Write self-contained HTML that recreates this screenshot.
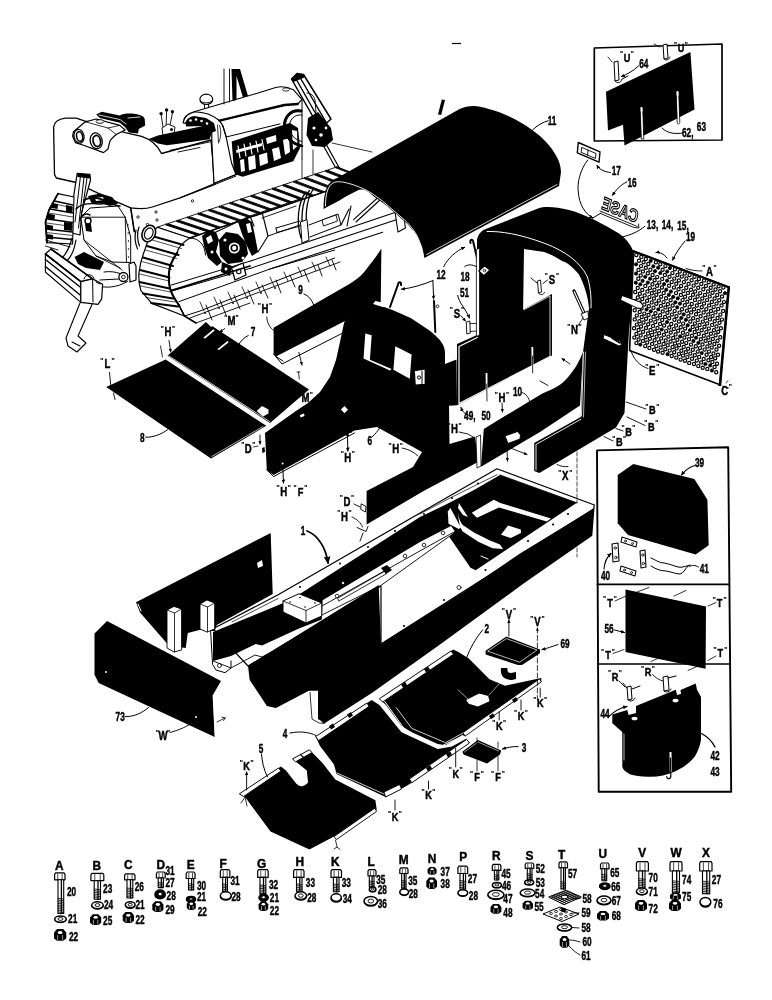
<!DOCTYPE html>
<html lang="en"><head><meta charset="utf-8"><title>Parts diagram</title>
<style>
html,body{margin:0;padding:0;background:#fff;}
svg{display:block;filter:blur(0.45px);}
text{font-family:"Liberation Sans",sans-serif;font-weight:bold;fill:#000;stroke:#000;stroke-width:0.45px;}
.k{fill:#000;stroke:none;}
.w{fill:#fff;stroke:none;}
.l{fill:none;stroke:#000;stroke-width:1;stroke-linecap:round;stroke-linejoin:round;}
.l2{fill:none;stroke:#000;stroke-width:1.6;stroke-linecap:round;stroke-linejoin:round;}
.l3{fill:none;stroke:#000;stroke-width:2.4;stroke-linecap:round;stroke-linejoin:round;}
.wl{fill:none;stroke:#fff;stroke-width:1;stroke-linecap:round;stroke-linejoin:round;}
.o{fill:#fff;stroke:#000;stroke-width:1;stroke-linejoin:round;}
</style></head><body>
<svg width="772" height="1000" viewBox="0 0 772 1000">
<rect x="0" y="0" width="772" height="1000" fill="#fff"/>
<path d="M452,43.5 L461,43.5" stroke="#000" stroke-width="1.2" fill="none"/>

<!-- tractor line drawing -->
<g id="tractor">
<!-- fuel tank -->
<path class="o" d="M53.6,127.2 C54,122 58,119 65.4,118.1 L76.3,118.1 L84.4,120.9 L125.2,132.6 L141.6,136.3 C150,139 157,144 161.5,153.5 L211,140 L215,184.4 L180,197.9 L152.4,207 C146,209 140,209 130.7,207.9 L116.2,201.6 L92.6,190.7 L76.3,182.5 L56.3,178 L54.5,174.4 Z" style="stroke-width:1.3"/>
<!-- seat -->
<path class="k" d="M96.2,114.5 L101.7,111.8 L119.8,115.4 C123,113.5 132,113 138,114.5 C142,115.5 145,117 144.8,120 L145.2,125.4 L138.8,129 L138,133.5 L128.9,132.6 L125.2,127.2 L119.8,122.7 L99.8,118.1 Z"/>
<path class="wl" d="M99,115 L120,119.5 L126,124 M128,118 L140,117" style="stroke-width:0.8"/>
<!-- light housing -->
<path class="o" d="M73.5,131.7 L85.3,121.8 L96.2,119 L119.8,125.4 L125.2,130 L116.2,134.5 C112,138 110,141 109.8,141.7 L108,149 L103.5,152.6 L83.5,145.3 L75.4,142.6 L72.6,136.3 Z" style="stroke-width:1.2"/>
<path class="l" d="M85.3,121.8 L108,128 L116.2,134.5 M108,128 L119.8,125.4" style="stroke-width:0.8"/>
<ellipse cx="100" cy="121.5" rx="4" ry="1.8" class="o" style="stroke-width:0.9"/>
<ellipse cx="79" cy="136.3" rx="5" ry="6.9" class="o" transform="rotate(-12 79 136.3)" style="stroke-width:1.3"/>
<ellipse cx="79.6" cy="136.5" rx="3" ry="4.8" class="o" transform="rotate(-12 79.6 136.5)" style="stroke-width:1.6"/>
<ellipse cx="96.2" cy="140.8" rx="6" ry="8" class="o" transform="rotate(-12 96.2 140.8)" style="stroke-width:1.3"/>
<ellipse cx="96.8" cy="141" rx="3.7" ry="5.6" class="o" transform="rotate(-12 96.8 141)" style="stroke-width:1.8"/>
<!-- levers -->
<path class="l" d="M161.1,114.5 L163.5,130 M166.6,111 L166,129 M172.4,113 L169.5,128" style="stroke-width:0.9"/>
<circle cx="161.1" cy="113.6" r="1.7" class="k"/><circle cx="166.6" cy="110" r="1.7" class="k"/><circle cx="172.4" cy="111.8" r="1.7" class="k"/>
<path class="o" d="M162,128 L168,124 L175,127 L174,134 L163,136 Z" style="stroke-width:0.9"/>
<circle cx="171.5" cy="129.5" r="1.5" class="k"/>
<!-- black grate behind seat -->
<path class="k" d="M148.8,139 L157.9,135.4 L203,126 L211.8,132.7 L209.6,139.3 L180,143.5 L167,145.3 L157.9,143.5 Z"/>
<path class="l" d="M170,150.3 L211.8,141.5 L214,183.3 M178,152 L200,147.5" style="stroke-width:0.9"/>
<!-- cowl / dashboard -->
<path class="o" d="M183.2,122.8 C183.5,118 186,114 194.2,111.8 C200,110.5 204,111.5 207.4,112.9 C212,115 215,117 217.3,118.4 C220,121 222,124 222.9,126 L226.2,137 L228.4,148 L231.7,163.5 L236,174.5 L214,183.3 L211.8,141.5 L211.8,132.7 L203,126 Z" style="stroke-width:1.2"/>
<path class="k" d="M185.5,122 C187,118.5 190,116.5 194,116 L206,118 L214,123 L216,131 L211.8,132.7 L203,126 L186,126.5 Z"/>
<g class="w"><circle cx="190.5" cy="120.5" r="1.3"/><circle cx="196" cy="119.5" r="1.3"/><circle cx="201.5" cy="121" r="1.3"/><circle cx="207" cy="123.5" r="1.3"/></g>
<path class="l" d="M217.5,125 L218.5,143 M219.5,125.5 C221.5,131 221,137 219,142" style="stroke-width:0.8"/>
<!-- cap -->
<ellipse cx="206.3" cy="99.3" rx="6.4" ry="5.2" class="o" style="stroke-width:1.2"/>
<path class="l" d="M200.5,101 C203,103.5 209.5,103.5 212,101 M204.5,104.5 L204.5,111 M208.5,104.5 L208.5,111.5" style="stroke-width:0.9"/>
<!-- hood -->
<path class="o" d="M194.2,111.8 L258,93 L275.7,87.5 C282,86 289,87.5 293.3,89.7 L302,99.6 L297.7,104 L284.5,105 L219.5,120.6 C214,116 206,112 194.2,111.8 Z" style="stroke-width:1.1"/>
<path class="l" d="M219.5,120.6 L284.5,105 L297.7,104" style="stroke-width:2.4"/>
<path class="l" d="M226.2,137 L280,123.9 M302,99.6 L302,159 M222.9,126 L226.2,137" style="stroke-width:1"/>
<ellipse cx="286" cy="89.5" rx="3.5" ry="1.6" class="o" style="stroke-width:0.8"/>
<!-- pole behind hood -->
<path class="l" d="M224,69 L224,104 M229.5,69 L229.5,102" style="stroke-width:0.9"/>
<path class="k" d="M231.5,69 L240,69 L248,96 L243,97.5 L236.5,76 L236.5,100 L232.5,101 Z"/>
<!-- engine compartment -->
<path class="k" d="M231.7,141.5 L280,126 L290,123 L298,128 L300,148 L293.3,161.3 L242.7,176.7 L236,174.5 L233.9,170 Z"/>
<g class="w">
<path d="M236,150 L262,143 L262,146 L236.5,153 Z"/>
<path d="M240,160 L244,159 L245,171 L241,172 Z"/>
<path d="M248,157 L255,155 L256,168.5 L249,170.5 Z"/>
<path d="M259,155 L267,152.5 L268,163 L260,166 Z"/>
<path d="M272,149 L279,147 L281,158 L274,161 Z"/>
<path d="M283,140 L289,138 L290,152 L285,155 Z"/>
<path d="M266,138 L276,135 L276.5,141 L267,144 Z"/>
<path d="M292,130 L297,131 L297.5,146 L293,150 Z"/>
</g>
<path class="l" d="M238,146 L240,158 M244,144 L246,156 M250,143 L252,154 M256,141 L258,152 M262,139.5 L264,150" style="stroke-width:1.2;stroke:#fff"/>
<!-- hose loop -->
<path class="l" d="M301,111 C291,109 284,117 284.5,127 C285,137 292,144 302,146" style="stroke-width:2.2"/>
<path class="l" d="M302,115 C294,114 289,120 289.5,127.5 C290,135 295,140 302,141.5" style="stroke-width:1"/>
<!-- lift cylinder (front right) -->
<path class="o" d="M291.5,79 L297,73.5 L303.5,74.5 L331,119 L320,129 Z" style="stroke-width:1.5"/>
<path class="l" d="M295.5,78 L323,126.5 M299.5,76.5 L326.5,123" style="stroke-width:1.4"/>
<path class="k" d="M291.5,79 L297,73.5 L303.5,74.5 L304.5,77.5 L293.5,82 Z"/>
<path class="k" d="M308,118 L318,112 L331,128 L333,140 L325,147 L312,146 L306.5,135 Z"/>
<g class="w"><circle cx="314" cy="128" r="1.6"/><circle cx="321" cy="135" r="1.8"/><circle cx="326" cy="128" r="1.4"/><circle cx="316" cy="140" r="1.3"/></g>
<path class="l" d="M307,93 C311,93 314,96 315,100 L316,112" style="stroke-width:0.9"/>
<path class="l" d="M323,145 L343,181 M326,144 L346,180" style="stroke-width:1.2"/>
<path class="l" d="M332,143 L372,152 M302,159 L302,196 M313,150 L313,186" style="stroke-width:0.8"/>
<!-- body side below tank -->
<path class="l" d="M130.7,207.9 L134.3,231.7 M180,197.9 L236,174.5 M215,184.4 L236,176" style="stroke-width:1"/>
<g class="o" style="stroke-width:0.8"><circle cx="138" cy="217" r="1.2"/><circle cx="156" cy="212" r="1.2"/><circle cx="147.5" cy="224.5" r="1.2"/><circle cx="157" cy="220" r="1.2"/><circle cx="192.5" cy="201" r="1.2"/></g>
<!-- rear lift cylinder -->
<path class="o" d="M77.2,173.4 L89.9,174.4 L90.5,180 L81.7,212.4 L80,235 L72,233 L71.7,208.8 Z" style="stroke-width:1.2"/>
<path class="l" d="M80.5,176 L75,222 M84,177 L78.5,228 M87,178 L82,212" style="stroke-width:1"/>
<path class="k" d="M77.2,173.4 L89.9,174.4 L90.3,178.5 L77.5,177 Z"/>
<!-- left rear track -->
<path class="o" d="M58,193.6 L74,197 L72.6,244 L47,242.6 L45.5,222 L49,210 Z" style="stroke-width:1.1"/>
<g class="l" style="stroke-width:1.4"><path d="M54.5,201 L72.8,205"/><path d="M50,209 L72.6,213"/><path d="M47.5,219 L72.4,222.5"/><path d="M46,229 L72.4,232"/><path d="M46.5,237 L72.4,239.5"/></g>
<g class="l" style="stroke-width:0.7"><path d="M55,204 L72.8,208"/><path d="M49,213 L72.6,217"/><path d="M46.5,223 L72.4,226.5"/><path d="M46.3,232.5 L72.4,235.5"/></g>
<path class="k" d="M66,205 L72.7,206.5 L72.5,213 L66,212 Z M64,222 L72.5,223 L72.4,231 L64,230 Z"/>
<!-- rear housing -->
<path class="o" d="M80.8,217.2 L90,208 L118,206 L125.2,217.2 L130.7,237 L130.7,262.5 L112,262 L96,256 L84,240 Z" style="stroke-width:1"/>
<path class="l" d="M80.8,217.2 L125.2,217.2 M125.2,217.2 L126.5,262 M84,240 L122,270 M96,256 L120,268" style="stroke-width:0.9"/>
<g fill="#000"><circle cx="128" cy="225" r="0.7"/><circle cx="128.3" cy="233" r="0.7"/><circle cx="128.5" cy="241" r="0.7"/><circle cx="128.5" cy="249" r="0.7"/><circle cx="128.5" cy="257" r="0.7"/></g>
<path class="l" d="M76,209 C80,204 90,203 100,204 L110,203 M80,220 C82,214 86,213 90,215" style="stroke-width:1.4"/>
<circle cx="88" cy="221" r="3" class="o" style="stroke-width:1.4"/>
<path class="k" d="M85,224 L91,224 L92,232 L86,231 Z"/>
<path class="k" d="M74.5,257 L84,252 L104,262 L100,270 L86,268 L78,264 Z"/>
<path class="l" d="M72,238 C70,246 68,252 62,258 M76,240 C74,250 72,256 66,262" style="stroke-width:1.2"/>
<!-- hitch -->
<circle cx="123.4" cy="277" r="4.5" class="o" style="stroke-width:1.3"/><circle cx="123.4" cy="277" r="1.8" class="o" style="stroke-width:0.9"/>
<path class="o" d="M129,264 L134,262 L136,266 L136,280 L130,282 Z" style="stroke-width:1.2"/>
<path class="l" d="M100,280 L119,279 M104,272 C110,271 116,272 120,273.5 M127.5,281.5 C116,288 106,288 98,286" style="stroke-width:1"/>
<!-- ripper beam -->
<path class="o" d="M45.4,254 L51,249 L92.6,278.9 L80.8,281.6 Z" style="stroke-width:1.1"/>
<path class="o" d="M45.4,254 L80.8,281.6 L80.8,302.4 L45.4,272 Z" style="stroke-width:1.1"/>
<path class="l" d="M45.4,259.5 L80.8,287.5 M45.4,266.5 L80.8,295.5" style="stroke-width:1.4"/>
<path class="o" d="M80.8,281.6 L92.6,278.9 L102.6,284.3 L101.7,298.8 L98,304.3 L80.8,302.4 Z" style="stroke-width:1.2"/>
<path class="l" d="M84,279 C85,274 92,273 94,278 M92.6,278.9 L93,302 M96,282 L100,284" style="stroke-width:1"/>
<path class="l" d="M45.5,246 L58,250 M45.5,240 L70,247" style="stroke-width:0.9"/>
<!-- ripper shank -->
<path class="l" d="M80,303 L66,338 L68,346 L77,352 M92,304.5 L78,336 L86,343 L77,352 M72,342 L80,346" style="stroke-width:1.1"/>
<!-- right track : top run pads -->
<g class="o" style="stroke-width:0.9">
<path d="M157.2,227.2 L164.9,224.6 L197.3,235.4 L189.8,238.0 Z"/>
<path d="M167.8,223.6 L175.5,221.1 L207.6,231.9 L200.2,234.4 Z"/>
<path d="M178.5,220.1 L186.1,217.5 L218.0,228.3 L210.5,230.9 Z"/>
<path d="M189.1,216.5 L196.8,213.9 L228.4,224.8 L220.9,227.3 Z"/>
<path d="M199.7,212.9 L207.4,210.3 L238.7,221.2 L231.3,223.8 Z"/>
<path d="M210.4,209.3 L218.0,206.8 L249.1,217.6 L241.6,220.2 Z"/>
<path d="M221.0,205.8 L228.7,203.2 L259.5,214.1 L252.0,216.6 Z"/>
<path d="M231.6,202.2 L239.3,199.6 L269.8,210.5 L262.4,213.1 Z"/>
<path d="M242.3,198.6 L249.9,196.1 L280.2,207.0 L272.7,209.5 Z"/>
<path d="M252.9,195.1 L260.6,192.5 L290.5,203.4 L283.1,206.0 Z"/>
<path d="M263.6,191.5 L271.2,188.9 L300.9,199.8 L293.4,202.4 Z"/>
<path d="M274.2,187.9 L281.8,185.4 L311.3,196.3 L303.8,198.9 Z"/>
<path d="M284.8,184.4 L292.5,181.8 L321.6,192.7 L314.2,195.3 Z"/>
<path d="M295.5,180.8 L303.1,178.2 L332.0,189.2 L324.5,191.7 Z"/>
<path d="M306.1,177.2 L313.8,174.6 L342.4,185.6 L334.9,188.2 Z"/>
<path d="M316.7,173.6 L324.4,171.1 L352.7,182.1 L345.3,184.6 Z"/>
<path d="M327.4,170.1 L335.0,167.5 L363.1,178.5 L355.6,181.1 Z"/>
</g>
<g class="l" style="stroke-width:1.7">
<path d="M166.3,224.1 L198.7,234.9"/>
<path d="M177.0,220.6 L209.1,231.4"/>
<path d="M187.6,217.0 L219.4,227.8"/>
<path d="M198.3,213.4 L229.8,224.3"/>
<path d="M208.9,209.8 L240.2,220.7"/>
<path d="M219.5,206.3 L250.5,217.1"/>
<path d="M230.2,202.7 L260.9,213.6"/>
<path d="M240.8,199.1 L271.3,210.0"/>
<path d="M251.4,195.6 L281.6,206.5"/>
<path d="M262.1,192.0 L292.0,202.9"/>
<path d="M272.7,188.4 L302.4,199.4"/>
<path d="M283.3,184.9 L312.7,195.8"/>
<path d="M294.0,181.3 L323.1,192.2"/>
<path d="M304.6,177.7 L333.5,188.7"/>
<path d="M315.2,174.1 L343.8,185.1"/>
<path d="M325.9,170.6 L354.2,181.6"/>
<path d="M336.5,167.0 L364.5,178.0"/>
</g>
<!-- front idler / curved front of track -->
<path class="o" d="M157.2,227.2 L189.8,238 C182,243 178,248 177.2,252.6 C172,260 169.5,266 169,272.5 C168.5,280 169,286 170.8,290.7 C173,297 176,301 179,305.2 L184.4,316 L151.8,303.4 L140.9,290.7 C139,284 138.5,278 139,272.5 C140,264 142,257 144.5,250.8 C147,242 151,234 157.2,227.2 Z" style="stroke-width:1.2"/>
<g class="l" style="stroke-width:2"><path d="M152,236 L183.5,245"/><path d="M147,246 L178.5,255"/><path d="M143,257.5 L173,266"/><path d="M140,270 L169.5,277.5"/><path d="M139.5,282 L169.5,288.5"/><path d="M143,293.5 L173,298.5"/><path d="M151,303 L178,306.5"/></g>
<g class="l" style="stroke-width:0.7"><path d="M150.5,239.5 L181.5,248.5"/><path d="M145.5,250 L176.5,258.5"/><path d="M141.8,261.5 L171.5,269.5"/><path d="M139.5,274 L169.2,281"/><path d="M140.5,286 L170.3,292"/><path d="M146,297.5 L175,302"/></g>
<ellipse cx="148.8" cy="233.5" rx="6.5" ry="8.5" class="o" transform="rotate(25 148.8 233.5)" style="stroke-width:1.6"/>
<path class="l" d="M139,227 C137,232 137,240 139.5,246 M136,230 C134.5,236 135,243 137.5,249" style="stroke-width:1.2"/>
<!-- track side face + lower run -->
<path class="l" d="M189.8,238 C200,238 205,246 205.5,255 M170.8,285.2 L250,261.2 M172,291 L250,268.4 M179,301.6 L270,269 L334.7,250 M184.4,316 L200,311 L334.7,258" style="stroke-width:1"/>
<path class="l" d="M250,261.2 L395,212.5 M250,268.4 L399.2,218.7 M270,269 L382.6,232.2" style="stroke-width:1.1"/>
<g class="l" style="stroke-width:0.8">
<path d="M200,302 L204,311 M214,297 L218,306 M228,292 L232,301 M242,287 L246,296 M256,282 L260,291 M270,277 L274,286 M284,272 L288,281 M298,267 L302,276 M312,262 L316,271 M326,257 L330,266"/>
</g>
<g fill="#000"><circle cx="205" cy="313" r="0.9"/><circle cx="219" cy="308" r="0.9"/><circle cx="233" cy="303" r="0.9"/><circle cx="247" cy="298" r="0.9"/><circle cx="261" cy="293" r="0.9"/><circle cx="275" cy="288" r="0.9"/></g>
<!-- mechanism between tracks -->
<path class="k" d="M202,236 L210,230 L216,232 L219,240 L216,252 L222,262 L217,266 L208,258 L204,246 Z"/>
<path class="k" d="M219,240 L226,232 L238,234 L246,242 L248,254 L242,262 L228,264 L220,256 Z"/>
<circle cx="234.3" cy="248" r="6.6" class="o" style="stroke-width:2.2"/>
<circle cx="234.3" cy="248" r="3" class="o" style="stroke-width:1.6"/>
<path class="k" d="M238,222 L246,218 L252,222 L255,236 L258,252 L252,256 L247,246 L242,234 Z"/>
<path class="k" d="M222,262 L232,266 L230,276 L221,272 Z"/>
<g class="w"><path d="M206,238 L211,235 L213,241 L208,244 Z"/><circle cx="212" cy="252" r="1.5"/><circle cx="225" cy="240" r="1.6"/><circle cx="243" cy="258" r="1.5"/><path d="M246,224 L250,223 L252,232 L248,233 Z"/><circle cx="226" cy="269" r="1.5"/></g>
<path class="o" d="M231.6,268 L243,263 L246,275 L235,280 Z" style="stroke-width:1.3"/>
<circle cx="238.8" cy="271.5" r="2.2" class="o" style="stroke-width:1.1"/>
<path class="l" d="M216,232 L250,216 L262,212 L268,236 L258,252 M250,216 L254,226 M262,212 L300,199" style="stroke-width:1.1"/>
<path class="l" d="M268,236 L300,225 M262,218 L296,206" style="stroke-width:0.9"/>
<!-- rear sprocket arcs + carrier -->
<path class="l" d="M306,192 C298,202 296,222 301,238 M309.5,190.5 C301.5,201 300,221 304.5,237 M313,189.5 C306,200 304.5,219 308,234" style="stroke-width:1.3"/>
<path class="o" d="M300.5,222 L307,219.5 L309,240 L302,243 Z" style="stroke-width:1"/>
<path class="l" d="M276,228 L300,221 M277,232.5 L300,226 M276,228 L277,232.5 M309,225 L338,214 L341,225 L310,237" style="stroke-width:1"/>
<path class="o" d="M322,220 L336,215 L337.5,221 L323.5,226 Z" style="stroke-width:0.9"/>
<path class="l" d="M341,225 L349,209 M347,226 L351,206 M353.6,219.7 L378.5,197 M356,222 L381,199" style="stroke-width:1.1"/>
<path class="o" d="M395,212 L403,209.4 L405.4,228 L398,232 Z" style="stroke-width:1.1"/>
<!-- lower run pads grid -->
<g class="l" style="stroke-width:0.9">
<path d="M190,318 L340,262 M196,323 L250,303"/>
<path d="M206,305 L212,320 M220,300 L226,315 M234,295 L240,309 M248,290 L254,304 M262,285 L268,298 M276,280 L281,293 M290,275 L295,287 M304,270 L309,282 M318,265 L322,276 M332,260 L336,270"/>
</g>
<path class="l" d="M179,305.2 L184.4,316 L196,323" style="stroke-width:1.6"/>
<path class="l" d="M170.8,290.7 L250,266" style="stroke-width:1.8"/>
<path class="l" d="M177.2,252.6 C172,260 169.5,266 169,272.5 C168.5,280 169,286 170.8,290.7 C173,297 176,301 179,305.2" style="stroke-width:2"/>
<path class="l" d="M189.8,238 L366,177.5" style="stroke-width:1.4"/>
<!-- extra dark accents -->
<path class="k" d="M88,196 L100,193.5 L112,197 L118,204 L110,206 L100,203 L92,204 Z"/>
<path class="w" d="M95,198 L103,197 L104,200 L96,201 Z"/>
<path class="l" d="M84,200 C92,196 100,198 108,202 C112,204 116,206 120,206" style="stroke-width:1.6"/>
<path class="l" d="M58,193.6 L49,210 L45.5,222 L47,242.6" style="stroke-width:1.8"/>
<path class="k" d="M52,203 L58,204.3 L57.5,209 L51,207.7 Z M48,213.5 L55,215 L54.5,220 L47,218.5 Z M46.3,224.5 L53,225.7 L53,230.5 L46.2,229.3 Z M46.5,234 L53,235 L53,239.5 L46.7,238.7 Z"/>
<ellipse cx="148.8" cy="233.5" rx="4" ry="5.8" class="o" transform="rotate(25 148.8 233.5)" style="stroke-width:1.2"/>
<path class="l" d="M284.5,127 C284,117 291,109 301,111" style="stroke-width:3"/>
<path class="l" d="M284.5,127 C285,137 292,144 302,146" style="stroke-width:2.6"/>
<path class="l" d="M45.4,254 L80.8,281.6 M51,249 L92.6,278.9" style="stroke-width:1.7"/>
<path class="l" d="M130.7,207.9 L134.3,231.7" style="stroke-width:1.5"/>
</g>

<!-- hood 11 -->
<g id="hood">
<path class="k" d="M323.6,209 C323.5,200 324.5,195 325.4,192.6 C326.5,187 328,184.5 330,182.7 C332,180.5 334.5,179 337.2,178.1 L459.6,109 C470,104 480,106 488.6,109 C505,113 525,123.5 540,136 C552,147 561,160 561,172 L559,186 L424.3,258 C423.5,253 423,247 418.8,239.8 C416,234 414,231 411.6,229 C408,224 404,221 400.7,218 L386.2,205.3 L373.5,196.3 C370,192.5 366,190 362.6,189.5 C360,189.5 358.5,190 357,190.8 L346.3,196.3 L339,200.8 L328,206.5 Z"/>
<path class="wl" d="M325.5,206 C325.5,196 327,188 331.5,184 C335,181 340,181.5 345,182.5 C352,184 364,188 373.5,194.5 C380,199 385,203 389.8,207.2 L404.3,219.8 C409,224 412,228 415.2,232.5 C418,237 420,242 420.6,247 L423,255" style="stroke-width:0.9"/>
<path class="wl" d="M426.5,254.5 L557,184.5" style="stroke-width:0.8"/>
<path class="k" d="M441.8,99.5 L445,100 L441.2,115 L438,114.5 Z"/>
</g>

<!-- radiator shell 13,14,15 with inner panels -->
<g id="shell">
<path class="k" d="M477,342 L477,240 C478,234 482,230 487,228.5 L538,208.6 C545,206 556,207 569,210 C585,214 605,225 619,233.5 C628,240 635,250 636,262 L634,290 L629,330 L624.5,413 L616,427.4 L539.4,473 L534.2,471 L534.2,443 L580.8,417 L583,352 L589,308 C588,296 584,284 578.6,274 C572,266 566,262 563,261.5 C556,257 550,254 544.3,252 L524,249 L522.6,342 Z"/>
<!-- panel 49/50 -->
<path class="k" d="M457,344 L477,335 L522.6,310 L552,294 L552,355.5 L457,405.3 Z"/>
<!-- panel 10 -->
<path class="k" d="M583,351.8 C580,360 576,367 572.5,371.5 C568,378 563,383 558,386 C553,389 547,391.5 541.5,394 L500,419 L483.8,429 L481,466.8 L540,432 L580,405.6 Z"/>
</g>

<!-- floor plates 7, 8 ; panel 9 ; panel 6 -->
<g id="left">
<path class="k" d="M106.2,387 L165.6,359.6 L266.2,425.8 L211,458.4 Z"/>
<path class="k" d="M167.5,355.7 L206,322 L309,389.4 L270,423 Z"/>
<!-- panel 9 -->
<path class="k" d="M273.6,327.7 L349.4,284 C358,279 364,273 368,267 C373,261 378,254 381.4,248.5 L380.7,306 L347.2,314 L345.4,320.8 L276,356.5 L273.6,354 Z"/>
<path class="l" d="M273.6,354 L282,364 L343.6,332.6 M276,356.5 L283,361"/>
<!-- panel 6 -->
<path class="k" d="M347.2,311.7 L374.4,303.6 L392.5,310 L410.7,318 L428.8,330 C434,334 437,337 439.7,339.8 C443,344 445,348 445,352.5 L445,364 L456.5,359.5 L457,405.3 L449,405.7 L449.5,444 L475,436.5 L478,462 L423.6,491 L366.6,524.5 L366.6,491 L413,467 L422,452 L377,427 L354.5,430.5 L273.6,475 L266.8,470 L265,433 L296.6,410.5 L308,403 L320,392 L330,377 L336,360 L340,342 L343.6,325 Z"/>
<!-- windows -->
<path class="w" d="M365.3,333.5 L371.7,335.3 L369.9,359.8 L391.6,368.9 L390,370.5 L363.5,358.5 Z"/>
<path class="w" d="M395.3,346.2 L411.6,354.4 L409.8,378.8 L393.4,369.8 Z"/>
<path class="o" d="M414.3,370.7 L425.2,368.9 L425.2,384.3 L415.2,385.2 Z" style="stroke-width:1.2"/>
<circle cx="419" cy="377.5" r="1.6" class="l"/>
<path class="l" d="M422,371 L422,384"/>
<path class="w" d="M340.9,409.5 L344.5,406 L348,409.8 L344.4,413.3 Z"/>
<path class="w" d="M375.3,300.9 L387,303.6 L383.5,307.2 L373,304 Z"/>
</g>

<!-- grille 19 -->
<g id="grille">
<path d="M633.6,251.2 L728.8,287.2 L720,384.8 L629.6,350.4 Z" fill="#fff" stroke="#000" stroke-width="1.6" stroke-linejoin="round"/>
<path d="M728.8,287.2 L720,384.8" class="l" style="stroke-width:2.6"/>
<path d="M633.6,251.2 L728.8,287.2" class="l" style="stroke-width:2.2"/>
<g fill="#fff" stroke="#000" stroke-width="1.2">
<circle cx="636.3" cy="255.1" r="1.6"/>
<circle cx="641.3" cy="256.9" r="1.6"/>
<circle cx="645.8" cy="258.9" r="1.6"/>
<circle cx="655.9" cy="262.3" r="1.6"/>
<circle cx="660.3" cy="264.2" r="1.6"/>
<circle cx="665.4" cy="266.1" r="1.6"/>
<circle cx="674.9" cy="269.3" r="1.6"/>
<circle cx="679.8" cy="271.6" r="1.6"/>
<circle cx="684.8" cy="273.5" r="1.6"/>
<circle cx="689.6" cy="275.1" r="1.6"/>
<circle cx="694.5" cy="276.7" r="1.6"/>
<circle cx="698.9" cy="279.0" r="1.6"/>
<circle cx="704.0" cy="280.4" r="1.6"/>
<circle cx="708.7" cy="282.3" r="1.6"/>
<circle cx="713.6" cy="284.4" r="1.6"/>
<circle cx="718.6" cy="286.2" r="1.6"/>
<circle cx="723.3" cy="287.6" r="1.6"/>
<circle cx="639.0" cy="260.8" r="1.6"/>
<circle cx="643.6" cy="262.2" r="1.6"/>
<circle cx="648.3" cy="264.0" r="1.6"/>
<circle cx="662.6" cy="269.8" r="1.6"/>
<circle cx="672.4" cy="273.1" r="1.6"/>
<circle cx="677.4" cy="275.0" r="1.6"/>
<circle cx="681.8" cy="276.6" r="1.6"/>
<circle cx="686.4" cy="278.5" r="1.6"/>
<circle cx="691.6" cy="280.3" r="1.6"/>
<circle cx="696.5" cy="282.2" r="1.6"/>
<circle cx="701.3" cy="284.0" r="1.6"/>
<circle cx="705.9" cy="286.0" r="1.6"/>
<circle cx="710.7" cy="287.8" r="1.6"/>
<circle cx="715.5" cy="289.5" r="1.6"/>
<circle cx="720.1" cy="291.2" r="1.6"/>
<circle cx="641.0" cy="266.1" r="1.6"/>
<circle cx="645.8" cy="267.8" r="1.6"/>
<circle cx="650.4" cy="269.8" r="1.6"/>
<circle cx="664.9" cy="274.9" r="1.6"/>
<circle cx="669.5" cy="276.8" r="1.6"/>
<circle cx="674.3" cy="278.6" r="1.6"/>
<circle cx="678.9" cy="280.5" r="1.6"/>
<circle cx="683.9" cy="282.1" r="1.6"/>
<circle cx="688.6" cy="283.9" r="1.6"/>
<circle cx="693.6" cy="285.6" r="1.6"/>
<circle cx="698.2" cy="287.8" r="1.6"/>
<circle cx="703.3" cy="289.2" r="1.6"/>
<circle cx="708.0" cy="291.5" r="1.6"/>
<circle cx="712.5" cy="292.8" r="1.6"/>
<circle cx="717.2" cy="295.0" r="1.6"/>
<circle cx="722.0" cy="296.5" r="1.6"/>
<circle cx="638.5" cy="269.9" r="1.6"/>
<circle cx="642.9" cy="271.4" r="1.6"/>
<circle cx="647.8" cy="273.2" r="1.6"/>
<circle cx="652.6" cy="275.0" r="1.6"/>
<circle cx="657.2" cy="277.1" r="1.6"/>
<circle cx="662.2" cy="278.9" r="1.6"/>
<circle cx="671.7" cy="282.1" r="1.6"/>
<circle cx="676.3" cy="283.8" r="1.6"/>
<circle cx="681.1" cy="286.0" r="1.6"/>
<circle cx="686.3" cy="287.7" r="1.6"/>
<circle cx="691.0" cy="289.7" r="1.6"/>
<circle cx="695.2" cy="291.4" r="1.6"/>
<circle cx="700.2" cy="293.1" r="1.6"/>
<circle cx="705.0" cy="295.0" r="1.6"/>
<circle cx="709.7" cy="296.4" r="1.6"/>
<circle cx="714.6" cy="298.5" r="1.6"/>
<circle cx="719.2" cy="300.2" r="1.6"/>
<circle cx="723.9" cy="302.1" r="1.6"/>
<circle cx="640.7" cy="275.4" r="1.6"/>
<circle cx="654.6" cy="280.3" r="1.6"/>
<circle cx="659.3" cy="282.6" r="1.6"/>
<circle cx="669.0" cy="285.8" r="1.6"/>
<circle cx="673.9" cy="287.6" r="1.6"/>
<circle cx="678.5" cy="289.2" r="1.6"/>
<circle cx="683.4" cy="291.1" r="1.6"/>
<circle cx="687.9" cy="292.9" r="1.6"/>
<circle cx="693.0" cy="294.7" r="1.6"/>
<circle cx="697.6" cy="296.5" r="1.6"/>
<circle cx="702.3" cy="298.5" r="1.6"/>
<circle cx="707.1" cy="300.1" r="1.6"/>
<circle cx="711.8" cy="302.0" r="1.6"/>
<circle cx="716.5" cy="303.6" r="1.6"/>
<circle cx="721.5" cy="305.4" r="1.6"/>
<circle cx="638.3" cy="278.7" r="1.6"/>
<circle cx="652.4" cy="284.2" r="1.6"/>
<circle cx="657.1" cy="285.7" r="1.6"/>
<circle cx="661.9" cy="287.5" r="1.6"/>
<circle cx="676.1" cy="293.1" r="1.6"/>
<circle cx="680.9" cy="294.9" r="1.6"/>
<circle cx="685.1" cy="296.7" r="1.6"/>
<circle cx="690.2" cy="298.1" r="1.6"/>
<circle cx="695.0" cy="299.9" r="1.6"/>
<circle cx="699.5" cy="302.1" r="1.6"/>
<circle cx="704.0" cy="303.5" r="1.6"/>
<circle cx="709.1" cy="305.4" r="1.6"/>
<circle cx="713.6" cy="307.1" r="1.6"/>
<circle cx="718.1" cy="309.0" r="1.6"/>
<circle cx="723.1" cy="310.9" r="1.6"/>
<circle cx="645.3" cy="285.9" r="1.6"/>
<circle cx="649.9" cy="288.1" r="1.6"/>
<circle cx="654.4" cy="289.8" r="1.6"/>
<circle cx="659.0" cy="291.2" r="1.6"/>
<circle cx="663.7" cy="293.0" r="1.6"/>
<circle cx="682.6" cy="300.1" r="1.6"/>
<circle cx="687.3" cy="301.8" r="1.6"/>
<circle cx="691.8" cy="304.0" r="1.6"/>
<circle cx="696.8" cy="305.5" r="1.6"/>
<circle cx="701.7" cy="307.3" r="1.6"/>
<circle cx="706.3" cy="309.2" r="1.6"/>
<circle cx="711.0" cy="311.0" r="1.6"/>
<circle cx="715.4" cy="312.4" r="1.6"/>
<circle cx="720.4" cy="314.6" r="1.6"/>
<circle cx="637.7" cy="287.9" r="1.6"/>
<circle cx="642.3" cy="289.9" r="1.6"/>
<circle cx="647.4" cy="291.4" r="1.6"/>
<circle cx="651.8" cy="293.2" r="1.6"/>
<circle cx="656.3" cy="294.8" r="1.6"/>
<circle cx="661.1" cy="296.7" r="1.6"/>
<circle cx="666.0" cy="298.3" r="1.6"/>
<circle cx="670.6" cy="300.3" r="1.6"/>
<circle cx="684.8" cy="305.3" r="1.6"/>
<circle cx="689.6" cy="307.1" r="1.6"/>
<circle cx="694.0" cy="309.2" r="1.6"/>
<circle cx="698.6" cy="310.9" r="1.6"/>
<circle cx="703.6" cy="312.4" r="1.6"/>
<circle cx="708.3" cy="314.4" r="1.6"/>
<circle cx="712.5" cy="316.1" r="1.6"/>
<circle cx="717.6" cy="317.9" r="1.6"/>
<circle cx="721.9" cy="319.6" r="1.6"/>
<circle cx="635.2" cy="292.0" r="1.6"/>
<circle cx="639.8" cy="293.8" r="1.6"/>
<circle cx="644.6" cy="295.4" r="1.6"/>
<circle cx="649.4" cy="297.1" r="1.6"/>
<circle cx="653.9" cy="298.5" r="1.6"/>
<circle cx="658.8" cy="300.6" r="1.6"/>
<circle cx="663.5" cy="302.1" r="1.6"/>
<circle cx="667.9" cy="304.2" r="1.6"/>
<circle cx="672.7" cy="305.5" r="1.6"/>
<circle cx="682.0" cy="309.3" r="1.6"/>
<circle cx="686.9" cy="310.7" r="1.6"/>
<circle cx="691.1" cy="312.4" r="1.6"/>
<circle cx="696.1" cy="314.2" r="1.6"/>
<circle cx="700.6" cy="316.3" r="1.6"/>
<circle cx="705.5" cy="317.9" r="1.6"/>
<circle cx="709.9" cy="319.4" r="1.6"/>
<circle cx="714.7" cy="321.2" r="1.6"/>
<circle cx="719.5" cy="322.8" r="1.6"/>
<circle cx="637.8" cy="297.5" r="1.6"/>
<circle cx="642.2" cy="299.0" r="1.6"/>
<circle cx="647.1" cy="300.8" r="1.6"/>
<circle cx="651.7" cy="302.4" r="1.6"/>
<circle cx="656.3" cy="303.8" r="1.6"/>
<circle cx="660.9" cy="305.9" r="1.6"/>
<circle cx="665.4" cy="307.4" r="1.6"/>
<circle cx="669.8" cy="309.3" r="1.6"/>
<circle cx="674.7" cy="311.1" r="1.6"/>
<circle cx="679.6" cy="312.6" r="1.6"/>
<circle cx="688.4" cy="316.3" r="1.6"/>
<circle cx="693.2" cy="318.2" r="1.6"/>
<circle cx="697.7" cy="319.9" r="1.6"/>
<circle cx="702.8" cy="321.6" r="1.6"/>
<circle cx="707.1" cy="323.4" r="1.6"/>
<circle cx="712.1" cy="324.9" r="1.6"/>
<circle cx="716.5" cy="326.4" r="1.6"/>
<circle cx="720.9" cy="328.2" r="1.6"/>
<circle cx="635.1" cy="301.0" r="1.6"/>
<circle cx="639.7" cy="302.7" r="1.6"/>
<circle cx="644.3" cy="304.5" r="1.6"/>
<circle cx="648.8" cy="306.3" r="1.6"/>
<circle cx="653.5" cy="307.7" r="1.6"/>
<circle cx="662.7" cy="311.4" r="1.6"/>
<circle cx="667.4" cy="312.8" r="1.6"/>
<circle cx="671.9" cy="314.6" r="1.6"/>
<circle cx="676.4" cy="316.2" r="1.6"/>
<circle cx="690.3" cy="321.5" r="1.6"/>
<circle cx="694.9" cy="323.6" r="1.6"/>
<circle cx="699.6" cy="325.0" r="1.6"/>
<circle cx="704.5" cy="326.7" r="1.6"/>
<circle cx="708.8" cy="328.6" r="1.6"/>
<circle cx="713.9" cy="330.2" r="1.6"/>
<circle cx="718.2" cy="331.8" r="1.6"/>
<circle cx="637.5" cy="306.5" r="1.6"/>
<circle cx="641.6" cy="308.2" r="1.6"/>
<circle cx="655.4" cy="313.3" r="1.6"/>
<circle cx="660.1" cy="315.2" r="1.6"/>
<circle cx="665.1" cy="316.9" r="1.6"/>
<circle cx="669.2" cy="318.2" r="1.6"/>
<circle cx="674.4" cy="319.8" r="1.6"/>
<circle cx="678.9" cy="321.5" r="1.6"/>
<circle cx="683.2" cy="323.6" r="1.6"/>
<circle cx="692.7" cy="326.9" r="1.6"/>
<circle cx="697.1" cy="328.5" r="1.6"/>
<circle cx="701.7" cy="330.2" r="1.6"/>
<circle cx="706.4" cy="332.1" r="1.6"/>
<circle cx="710.9" cy="333.7" r="1.6"/>
<circle cx="715.6" cy="335.2" r="1.6"/>
<circle cx="720.3" cy="337.3" r="1.6"/>
<circle cx="634.7" cy="310.3" r="1.6"/>
<circle cx="639.7" cy="312.0" r="1.6"/>
<circle cx="644.3" cy="313.6" r="1.6"/>
<circle cx="648.5" cy="315.0" r="1.6"/>
<circle cx="653.5" cy="316.7" r="1.6"/>
<circle cx="657.5" cy="318.4" r="1.6"/>
<circle cx="662.2" cy="320.0" r="1.6"/>
<circle cx="671.3" cy="324.0" r="1.6"/>
<circle cx="676.1" cy="325.4" r="1.6"/>
<circle cx="680.7" cy="327.3" r="1.6"/>
<circle cx="685.1" cy="328.6" r="1.6"/>
<circle cx="694.7" cy="332.0" r="1.6"/>
<circle cx="698.8" cy="333.9" r="1.6"/>
<circle cx="703.8" cy="335.7" r="1.6"/>
<circle cx="708.3" cy="337.5" r="1.6"/>
<circle cx="712.8" cy="339.0" r="1.6"/>
<circle cx="717.5" cy="340.8" r="1.6"/>
<circle cx="636.8" cy="315.6" r="1.6"/>
<circle cx="641.7" cy="317.0" r="1.6"/>
<circle cx="646.1" cy="318.7" r="1.6"/>
<circle cx="650.8" cy="320.6" r="1.6"/>
<circle cx="655.3" cy="322.1" r="1.6"/>
<circle cx="660.1" cy="323.9" r="1.6"/>
<circle cx="664.1" cy="325.5" r="1.6"/>
<circle cx="669.2" cy="327.5" r="1.6"/>
<circle cx="673.8" cy="329.1" r="1.6"/>
<circle cx="678.1" cy="330.7" r="1.6"/>
<circle cx="682.9" cy="332.7" r="1.6"/>
<circle cx="687.4" cy="334.1" r="1.6"/>
<circle cx="692.0" cy="335.7" r="1.6"/>
<circle cx="700.9" cy="339.3" r="1.6"/>
<circle cx="705.6" cy="340.8" r="1.6"/>
<circle cx="709.9" cy="342.7" r="1.6"/>
<circle cx="714.4" cy="344.0" r="1.6"/>
<circle cx="719.1" cy="345.7" r="1.6"/>
<circle cx="634.7" cy="319.4" r="1.6"/>
<circle cx="639.4" cy="321.2" r="1.6"/>
<circle cx="643.5" cy="322.5" r="1.6"/>
<circle cx="648.2" cy="324.3" r="1.6"/>
<circle cx="653.0" cy="325.9" r="1.6"/>
<circle cx="657.5" cy="327.9" r="1.6"/>
<circle cx="666.2" cy="331.1" r="1.6"/>
<circle cx="670.7" cy="332.5" r="1.6"/>
<circle cx="675.6" cy="334.4" r="1.6"/>
<circle cx="684.4" cy="337.5" r="1.6"/>
<circle cx="689.0" cy="339.2" r="1.6"/>
<circle cx="702.5" cy="344.4" r="1.6"/>
<circle cx="707.4" cy="346.4" r="1.6"/>
<circle cx="711.7" cy="347.6" r="1.6"/>
<circle cx="716.5" cy="349.5" r="1.6"/>
<circle cx="636.8" cy="324.6" r="1.6"/>
<circle cx="641.0" cy="326.5" r="1.6"/>
<circle cx="646.0" cy="328.0" r="1.6"/>
<circle cx="650.5" cy="329.9" r="1.6"/>
<circle cx="654.8" cy="331.4" r="1.6"/>
<circle cx="659.1" cy="333.2" r="1.6"/>
<circle cx="663.9" cy="334.7" r="1.6"/>
<circle cx="668.4" cy="336.6" r="1.6"/>
<circle cx="673.2" cy="337.9" r="1.6"/>
<circle cx="677.4" cy="339.7" r="1.6"/>
<circle cx="682.1" cy="341.7" r="1.6"/>
<circle cx="686.2" cy="343.1" r="1.6"/>
<circle cx="691.0" cy="344.6" r="1.6"/>
<circle cx="695.8" cy="346.2" r="1.6"/>
<circle cx="700.0" cy="348.1" r="1.6"/>
<circle cx="704.6" cy="349.6" r="1.6"/>
<circle cx="709.0" cy="351.6" r="1.6"/>
<circle cx="713.5" cy="353.4" r="1.6"/>
<circle cx="718.0" cy="354.7" r="1.6"/>
<circle cx="634.1" cy="328.3" r="1.6"/>
<circle cx="638.6" cy="330.0" r="1.6"/>
<circle cx="643.1" cy="331.8" r="1.6"/>
<circle cx="648.0" cy="333.5" r="1.6"/>
<circle cx="652.0" cy="335.0" r="1.6"/>
<circle cx="656.6" cy="336.6" r="1.6"/>
<circle cx="661.2" cy="338.4" r="1.6"/>
<circle cx="665.7" cy="340.4" r="1.6"/>
<circle cx="670.6" cy="341.5" r="1.6"/>
<circle cx="675.0" cy="343.5" r="1.6"/>
<circle cx="679.1" cy="345.2" r="1.6"/>
<circle cx="683.7" cy="346.9" r="1.6"/>
<circle cx="688.1" cy="348.7" r="1.6"/>
<circle cx="692.8" cy="349.8" r="1.6"/>
<circle cx="697.7" cy="351.6" r="1.6"/>
<circle cx="706.6" cy="354.8" r="1.6"/>
<circle cx="711.1" cy="357.0" r="1.6"/>
<circle cx="715.2" cy="358.3" r="1.6"/>
<circle cx="636.4" cy="334.0" r="1.6"/>
<circle cx="640.6" cy="335.4" r="1.6"/>
<circle cx="645.6" cy="337.2" r="1.6"/>
<circle cx="649.9" cy="338.8" r="1.6"/>
<circle cx="654.6" cy="340.3" r="1.6"/>
<circle cx="659.1" cy="342.3" r="1.6"/>
<circle cx="663.6" cy="344.0" r="1.6"/>
<circle cx="667.7" cy="345.2" r="1.6"/>
<circle cx="672.6" cy="347.0" r="1.6"/>
<circle cx="676.6" cy="348.4" r="1.6"/>
<circle cx="681.4" cy="350.7" r="1.6"/>
<circle cx="685.8" cy="352.2" r="1.6"/>
<circle cx="690.3" cy="353.6" r="1.6"/>
<circle cx="694.8" cy="355.2" r="1.6"/>
<circle cx="699.1" cy="356.9" r="1.6"/>
<circle cx="703.7" cy="358.9" r="1.6"/>
<circle cx="708.4" cy="360.2" r="1.6"/>
<circle cx="712.4" cy="361.9" r="1.6"/>
<circle cx="717.0" cy="363.7" r="1.6"/>
<circle cx="634.3" cy="337.6" r="1.6"/>
<circle cx="638.6" cy="339.5" r="1.6"/>
<circle cx="643.0" cy="340.9" r="1.6"/>
<circle cx="647.2" cy="342.5" r="1.6"/>
<circle cx="652.1" cy="343.9" r="1.6"/>
<circle cx="656.3" cy="346.1" r="1.6"/>
<circle cx="660.7" cy="347.5" r="1.6"/>
<circle cx="665.3" cy="349.3" r="1.6"/>
<circle cx="669.7" cy="350.6" r="1.6"/>
<circle cx="674.2" cy="352.3" r="1.6"/>
<circle cx="678.9" cy="354.1" r="1.6"/>
<circle cx="683.0" cy="355.6" r="1.6"/>
<circle cx="687.4" cy="357.1" r="1.6"/>
<circle cx="692.0" cy="358.7" r="1.6"/>
<circle cx="696.8" cy="360.6" r="1.6"/>
<circle cx="701.2" cy="362.4" r="1.6"/>
<circle cx="714.6" cy="367.0" r="1.6"/>
<circle cx="636.4" cy="343.1" r="1.6"/>
<circle cx="645.2" cy="346.1" r="1.6"/>
<circle cx="649.4" cy="347.9" r="1.6"/>
<circle cx="654.0" cy="349.7" r="1.6"/>
<circle cx="658.1" cy="351.5" r="1.6"/>
<circle cx="662.6" cy="352.8" r="1.6"/>
<circle cx="671.7" cy="356.0" r="1.6"/>
<circle cx="676.3" cy="357.6" r="1.6"/>
<circle cx="680.6" cy="359.6" r="1.6"/>
<circle cx="685.0" cy="360.7" r="1.6"/>
<circle cx="689.2" cy="362.9" r="1.6"/>
<circle cx="694.0" cy="364.0" r="1.6"/>
<circle cx="698.3" cy="366.1" r="1.6"/>
<circle cx="702.7" cy="367.8" r="1.6"/>
<circle cx="707.3" cy="368.9" r="1.6"/>
<circle cx="716.2" cy="372.3" r="1.6"/>
</g><g fill="#000" stroke="#000" stroke-width="0.9">
<circle cx="650.7" cy="260.8" r="1.6"/>
<circle cx="669.9" cy="268.0" r="1.6"/>
<circle cx="653.3" cy="266.3" r="1.6"/>
<circle cx="658.1" cy="267.7" r="1.6"/>
<circle cx="667.2" cy="271.5" r="1.6"/>
<circle cx="725.1" cy="293.2" r="1.6"/>
<circle cx="636.1" cy="264.3" r="1.6"/>
<circle cx="655.0" cy="271.2" r="1.6"/>
<circle cx="660.3" cy="273.1" r="1.6"/>
<circle cx="667.1" cy="280.7" r="1.6"/>
<circle cx="636.1" cy="273.6" r="1.6"/>
<circle cx="645.2" cy="276.8" r="1.6"/>
<circle cx="650.1" cy="278.7" r="1.6"/>
<circle cx="664.1" cy="284.1" r="1.6"/>
<circle cx="642.6" cy="280.8" r="1.6"/>
<circle cx="647.8" cy="282.6" r="1.6"/>
<circle cx="666.2" cy="289.7" r="1.6"/>
<circle cx="670.9" cy="291.5" r="1.6"/>
<circle cx="635.8" cy="282.7" r="1.6"/>
<circle cx="640.3" cy="284.3" r="1.6"/>
<circle cx="668.8" cy="294.8" r="1.6"/>
<circle cx="673.2" cy="296.9" r="1.6"/>
<circle cx="677.8" cy="298.3" r="1.6"/>
<circle cx="675.4" cy="302.3" r="1.6"/>
<circle cx="680.0" cy="303.6" r="1.6"/>
<circle cx="677.2" cy="307.3" r="1.6"/>
<circle cx="683.7" cy="314.4" r="1.6"/>
<circle cx="658.3" cy="309.4" r="1.6"/>
<circle cx="681.3" cy="317.9" r="1.6"/>
<circle cx="685.9" cy="319.8" r="1.6"/>
<circle cx="646.5" cy="309.5" r="1.6"/>
<circle cx="650.8" cy="311.3" r="1.6"/>
<circle cx="687.7" cy="325.3" r="1.6"/>
<circle cx="667.0" cy="322.1" r="1.6"/>
<circle cx="690.0" cy="330.3" r="1.6"/>
<circle cx="696.1" cy="337.7" r="1.6"/>
<circle cx="661.7" cy="329.5" r="1.6"/>
<circle cx="680.2" cy="336.4" r="1.6"/>
<circle cx="693.4" cy="341.0" r="1.6"/>
<circle cx="698.4" cy="342.8" r="1.6"/>
<circle cx="701.7" cy="353.1" r="1.6"/>
<circle cx="705.4" cy="364.0" r="1.6"/>
<circle cx="710.2" cy="365.4" r="1.6"/>
<circle cx="640.3" cy="344.6" r="1.6"/>
<circle cx="667.6" cy="354.2" r="1.6"/>
<circle cx="711.9" cy="370.5" r="1.6"/>
</g>
</g>
<!-- top right inset box -->
<g id="box1">
<path class="l" d="M594.3,48 L722,44 L722,140 L594.3,141 Z" style="stroke-width:1.7"/>
<path class="k" d="M606,91.8 L690.4,52 L694.5,109.6 L624.5,145.5 L623,124.7 L608,130.5 Z"/>
<!-- clips -->
<path class="o" d="M614,62 L618,61 L619,80 L615,81 Z"/>
<path class="l" d="M615,81 C617,84 621,83 622,79 L628,76"/>
<path class="o" d="M663,45 L667,44 L668,58 L664,59 Z"/>
<path class="l" d="M664,59 C666,61 669,60 670,57"/>
<path class="l2" d="M641.5,108 L642.5,138" style="stroke:#fff;stroke-width:2.2"/>
<path class="l" d="M640.3,112 L641.2,139 L643.8,139 L642.9,112" style="stroke-width:0.8"/>
<path class="l2" d="M677.5,92 L678.5,122" style="stroke:#fff;stroke-width:2.2"/>
<path class="l" d="M676.3,96 L677.2,123 C678,125 680,124 679.8,122 L678.9,96" style="stroke-width:0.8"/>
<path class="l" d="M662,128 C668,134 676,134 683,133"/>
<path class="l" d="M608,57 L612,62 M654,44 L660,47" style="stroke-width:0.8"/>
</g>
<!-- right inset box -->
<g id="box2">
<path class="l" d="M597,450.4 L728.2,447.3 L731.2,791.7 L598.7,791.7 Z" style="stroke-width:1.9"/>
<path class="l" d="M597.3,584.3 L729.4,584.3 M597.8,664 L730,664" style="stroke-width:1.7"/>
<!-- cushion 39 -->
<path class="k" d="M617.7,475 L633.3,464 L694.4,479 L707.4,499.8 L708.7,545.3 L695.7,554.4 L628,535 L617.7,523.2 Z"/>
<!-- panel 56 -->
<path class="k" d="M625.5,589.5 L706,606.4 L705.6,668.8 L625.5,652 Z"/>
<!-- guard 42/43 -->
<path class="k" d="M612.3,714.6 L627.3,710 L628.5,715 L636,713 L636,706 L675.8,689.8 L677,695 L681,694 L680.5,690 L695.7,683.5 L697,689.8 L701,697 L701,739.5 C700,747 697,753 694.4,757 C689,764 682,768 674.5,771.8 C667,775 658,777 649.6,776.8 C642,777 635,776 629.8,774.3 C626,772 623,770 622.3,767 L622.3,732 L612.3,723.3 Z"/>
<ellipse cx="634.5" cy="718.5" rx="3" ry="1.8" class="w"/>
<ellipse cx="675.5" cy="700.5" rx="3" ry="1.8" class="w"/>
<path class="wl" d="M624,734 L624,760" style="stroke-width:0.7"/>
<path d="M670.5,752 L670.8,772" stroke="#fff" stroke-width="2" fill="none"/>
<path class="l" d="M670.5,758 L670.8,776 C670.8,779.5 666.5,779.5 666.8,776.5" style="stroke-width:1.2"/>
<!-- small hardware in box 2 top -->
<g class="o" style="stroke-width:1.1">
<path d="M612,544 L618,543 L619,561 L613,562 Z"/>
<path d="M622,537 L637,542 L636,547 L621,542 Z"/>
<path d="M640,551 L645,550 L646,567 L641,568 Z"/>
<path d="M621,566 L636,571 L635,576 L620,571 Z"/>
</g>
<g class="l" style="stroke-width:0.8"><circle cx="615.2" cy="548" r="1.2"/><circle cx="615.8" cy="557.5" r="1.2"/><circle cx="642.8" cy="555" r="1.2"/><circle cx="643.3" cy="563.5" r="1.2"/><circle cx="625.5" cy="541" r="1"/><circle cx="632.5" cy="543.6" r="1"/><circle cx="624.5" cy="570" r="1"/><circle cx="631.5" cy="572.6" r="1"/></g>
<path class="l" d="M651,558 C656,560 659,563 664,563 C670,564 674,566 678,567 C682,568 686,566 690,565 M651,566 C656,569 660,571 666,571 C672,572 676,574 680,574 C684,573 684,570 688,566" style="stroke-width:1"/>
<!-- clips R -->
<path class="o" d="M627,687 L631,686 L632,699 L628,700 Z"/>
<path class="l" d="M628,700 C630,702 634,701 635,698 M623,683 L627,688 M632,689 L640,686"/>
<path class="o" d="M663,677 L668,676 L669,690 L664,691 Z"/>
<path class="l" d="M664,691 C666,693 670,692 671,689 M668,678 L676,676"/>
</g>

<!-- main frame 1 -->
<g id="frame">
<!-- rim outline (white top surface) -->
<path class="o" d="M213,628.7 L277.7,595 L497,468.7 L594.4,505 L593.6,509 L381,644 L381,586 L248,666 Z" style="stroke-width:1.2"/>
<!-- interior black: far wall band + right interior -->
<path class="k" d="M213,632 L290,600.3 L420,517 L447,504 L474,490 L500,475 L576.8,502.8 L475.7,570.3 L470.5,567.7 L449,536.6 L455,531.5 L451,526 L420,542 L322.6,600.3 L321.8,619.6 L298.4,628.7 L262,645.5 L255.7,644 L231,656 L213,661 Z"/>
<path class="l" d="M420,508 L452,491 L497,468.7" transform="translate(0,6)" style="stroke-width:0.7"/>
<!-- rail: white strip + rod -->
<path class="l" d="M322,606 L420,550.9 L455,531.5 M300,626 L380.8,585.5 L449,536.6" style="stroke-width:0.9"/>
<path class="l" d="M338,598 L385,571 L386,574 L339,601 Z" style="stroke-width:0.8"/>
<g class="o" style="stroke-width:0.8"><circle cx="343" cy="583" r="1.6"/><circle cx="405" cy="556" r="1.8"/><circle cx="424" cy="545" r="1.8"/><circle cx="443" cy="533" r="1.8"/><circle cx="337" cy="596" r="1.8"/></g>
<path class="k" d="M381,568 L387,565 L392,570 L386,574 Z"/>
<!-- block with bolts -->
<path class="o" d="M283,601 L299,593.7 L321.8,603 L321.8,616 L306,623 L283,612 Z" style="stroke-width:1"/>
<path class="l" d="M283,601 L306,610.5 L321.8,603 M306,610.5 L306,623" style="stroke-width:0.8"/>
<g fill="#000"><circle cx="290" cy="602" r="0.8"/><circle cx="300" cy="597.5" r="0.8"/><circle cx="305" cy="607" r="0.8"/><circle cx="315" cy="603" r="0.8"/></g>
<!-- interior white cross-members on right -->
<path class="w" d="M447.8,511.4 L450.4,508 L460.8,527.6 L458.8,529 L448.5,523.7 Z"/>
<path class="w" d="M458.9,503 L468,517 L463,515 L458,508 Z"/>
<path class="w" d="M457.6,512.7 C459,518 460,522 462.7,525 L474.4,532.7 L490,540.5 L500,544.4 L503,549 L492.5,548.3 L478.3,541.8 L462.7,531.5 L460,527 Z"/>
<path class="w" d="M471.8,512.7 L493.8,499.7 L500.3,503 L551,518.4 L546.7,521.5 L499,507.5 L477,517.8 Z"/>
<path class="w" d="M508,525.6 L520.8,529.5 L521,533 L510.7,538 L501,534.7 Z"/>
<path class="l" d="M500,475 L576.8,502.8" style="stroke-width:0.8"/>
<path class="wl" d="M481,556 L488,559" style="stroke-width:1"/>
<!-- near side: cover panel + outer wall -->
<path class="k" d="M248,666 L378.7,585 L381,643.7 L466.6,590 L520,553.5 L594.5,508 L592.3,535.7 L523.6,583.6 L440,644.5 L372.6,692.6 L324.3,723.4 L318,720 L318,690.8 L308.8,690.8 L276,708 L266.8,706 L262,698.5 L249.7,680 Z"/>
<path class="w" d="M310,692.5 L317,692.5 L317,718.5 L322,721.5 L319,723 L312,719 Z"/>
<path class="l" d="M310,692.5 L312,719 L319,723 L324.3,723.4" style="stroke-width:0.8"/>
<!-- rim bolts -->
<g fill="#000"><circle cx="404" cy="626" r="1.1"/><circle cx="444" cy="600" r="1.1"/><circle cx="485.5" cy="570" r="1.1"/><circle cx="528" cy="541" r="1.1"/><circle cx="553" cy="524.5" r="1.1"/><circle cx="568" cy="514" r="1.1"/><circle cx="300" cy="587" r="1"/><circle cx="340" cy="563.5" r="1"/><circle cx="368" cy="547" r="1"/><circle cx="395" cy="531" r="1"/><circle cx="424" cy="514" r="1"/><circle cx="452" cy="498" r="1"/><circle cx="478" cy="483.5" r="1"/></g>
<circle cx="459" cy="587.5" r="2" class="l" style="stroke-width:0.8"/>
<!-- left front crossmember -->
<path class="l" d="M210.6,631 L212.6,664.5 L216,670 L225,672.7 L231,668 L231,661" style="stroke-width:1"/>
<circle cx="219.5" cy="665.5" r="2" class="l" style="stroke-width:0.8"/>
<path class="l" d="M213,661 L231,668 L255,655 L262,657 L300,638" style="stroke-width:0.9"/>
<path class="l" d="M232,622 L278,598.5" style="stroke-width:0.7"/>
<!-- dashed vertical near X -->
<path class="l" d="M577,452 L577,503 M577,536 L577,557" style="stroke-width:0.7;stroke-dasharray:4 2"/>
</g>
<!-- back panel upper-left & panel 73 -->
<g id="p73">
<path class="k" d="M136,602.3 L270.7,533 L272.7,594 L216.8,625 L214.7,631 L204,631 L200,600 L214.7,600 L214.7,626 L187.8,633 L185.7,648 L169,645.8 L140,612.6 Z"/>
<path class="o" d="M167,610 L174,606.4 L181.6,609 L181.6,650 L174,652 L167,648 Z" style="stroke-width:0.9"/>
<path class="l" d="M167,610 L174.5,613 L181.6,609 M174.5,613 L174.5,652" style="stroke-width:0.8"/>
<path class="o" d="M200,604 L207,600 L214.7,603 L214.7,629 L207,632 L200,629 Z" style="stroke-width:0.9"/>
<path class="l" d="M200,604 L207.5,607 L214.7,603 M207.5,607 L207.5,632" style="stroke-width:0.8"/>
<path class="wl" d="M138,604 L141,611" style="stroke-width:1"/>
<path class="w" d="M257,563 L262,560 L263,566 L258,568 Z"/>
<path class="k" d="M94.5,633.4 L107,621 L221,681 L212.6,695.5 L214.7,737 L98.7,683 L94.5,674.8 Z"/>
<path class="wl" d="M213.6,697 L215.2,735" style="stroke-width:0.8"/>
<circle cx="106" cy="672" r="1" class="w"/><circle cx="196" cy="717" r="1" class="w"/>
<path class="l" d="M217,722 L225,718 M225,718 L222,717.2 M225,718 L223.6,720.6" style="stroke-width:0.8"/>
</g>

<!-- bottom guards 2, 4, 5, plates 69, 3 -->
<g id="guards">
<!-- guard 5 -->
<path class="k" d="M239.4,793.8 L280.9,766.6 L286,770.5 L295,782 C298,786 301,787 303,786 C306,785 308,783 308,782 L306.8,770.5 L292.5,758.9 L309.4,749.8 L322.3,762.7 L335.3,779.6 L375.4,800.3 L376.7,809.4 L334,836.6 L309.4,849.5 L270.5,831.4 L245,797 Z"/>
<path class="o" d="M239.4,793.8 L278.5,768 L281,771 L243.5,796.5 Z" style="stroke-width:0.9"/>
<path class="o" d="M334,836.6 L375,808 L376.5,811.5 L336.5,839.5 Z" style="stroke-width:0.9"/>
<path class="o" d="M292.5,758.9 L309.4,749.8 L312,752.6 L295.6,761.8 Z" style="stroke-width:0.9"/>
<path class="l" d="M300.5,754.5 L303.5,757.5" style="stroke-width:1.2"/>
<!-- guard 4 -->
<path class="k" d="M315.6,736.6 L371.7,700 L379.4,705 L401.5,732.3 L437.7,749 L452,746.6 L466.2,738.8 L469.5,743 L411.8,782.8 L399.6,790 L385.6,797 L336.6,774 L334,764.6 L320,746 Z"/>
<path class="o" d="M315.6,736.6 L367,703 L369,706.5 L318.6,740.6 Z" style="stroke-width:0.9"/>
<path class="k" d="M329,726 L333,723.5 L335,727 L331,729.5 Z M347,714.5 L351,712 L353,715.5 L349,718 Z"/>
<path class="o" d="M411.8,782.8 L469.5,743 L466.6,739.4 L409.4,779 Z" style="stroke-width:0.9"/>
<path class="k" d="M426,768 L430,765.2 L432,768.6 L428,771.4 Z M446,754 L450,751.2 L452,754.6 L448,757.4 Z"/>
<path class="o" d="M385.6,797 L401.5,789 L399.5,784.5 L384,792 Z" style="stroke-width:0.9"/>
<path class="wl" d="M337,773 L384,794" style="stroke-width:0.8"/>
<!-- guard 2 -->
<path class="k" d="M379.4,698.7 L453.3,649.4 L458.4,652 L468.8,658.5 L489.5,679.2 L505,685.7 L541.3,678 L541.3,681.8 L468.8,729.7 L465,736.2 L462.3,735 L445.5,745.3 L437.7,744 L411.8,732.3 L401.5,725.9 L386,705 Z"/>
<path class="o" d="M379.4,698.7 L451,651 L453.5,654.3 L382.5,702 Z" style="stroke-width:0.9"/>
<path class="k" d="M401,684.5 L405,681.8 L407.2,685.2 L403.2,687.9 Z M424,669.2 L428,666.5 L430.2,669.9 L426.2,672.6 Z"/>
<path class="o" d="M465,736.2 L541.3,681.8 L539.6,678.8 L463,732.6 Z" style="stroke-width:0.9"/>
<path class="k" d="M489,716 L493,713.2 L495,716.4 L491,719.2 Z M512,699.8 L516,697 L518,700.2 L514,703 Z"/>
<path class="wl" d="M384.6,701.2 L404,728.4 L411.8,733.6 L440.2,746.6 L462.3,736.2" style="stroke-width:1"/>
<path class="wl" d="M396.3,707.7 L411.8,728.4 L445.5,742.7 L463,733" style="stroke-width:0.8"/>
<path class="w" d="M466.2,700 L479.2,693.5 L488.2,696 L489.5,701.2 L477.9,706.4 L468.8,703.8 Z"/>
<path class="wl" d="M458,690 L468,699 M489,695 L499,684" style="stroke-width:0.6"/>
<!-- plate 69 -->
<path class="k" d="M485.6,650.7 L506.4,636.5 L540,649.4 L540,653.3 L522,665 L518,665 L485.6,654.6 Z"/>
<path class="wl" d="M488,651 L506.4,638.6 L537,650 L520,662 Z" style="stroke-width:0.7"/>
<path class="k" d="M501,668 C500,676 504,680 512,680 L516,679 L516,672 L511,673 C508,673 507,671 507.5,668 Z"/>
<!-- plate 3 -->
<path class="k" d="M462.3,751.8 L477.9,740 L501.2,750.5 L500,754.4 L487,763.4 L463.6,754.4 Z"/>
<path class="wl" d="M464.5,752 L478,742 L498.5,751" style="stroke-width:0.6"/>
</g>

<!-- small parts, leaders and arrows -->
<defs>
<marker id="ah" viewBox="0 0 6 6" refX="5" refY="3" markerWidth="4.2" markerHeight="4.2" orient="auto-start-reverse"><path d="M0,0.4 L6,3 L0,5.6 Z" fill="#000"/></marker>
</defs>
<g id="details">
<!-- plate 17 -->
<path class="o" d="M578.3,142.5 L600,151.8 L599,162.2 L577.3,152.8 Z" style="stroke-width:1.4"/>
<path class="l" d="M582,147.5 L596,153.5 L595.5,158.5 L581.5,152.5 Z M588,150 L587.6,155" style="stroke-width:0.9"/>
<path class="l" d="M587.7,160 C580,170 577,183 578.3,192 C579,204 585,214 592.8,218" marker-end="url(#ah)" style="stroke-width:1"/>
<path class="l" d="M592.8,218 L601,213" style="stroke-width:1"/>
<path class="l" d="M610.5,172.5 C604,172 599,169 597,165.3" marker-end="url(#ah)" style="stroke-width:1"/>
<path class="l" d="M627,181.9 C620,185 616,190 612.5,195.3" marker-end="url(#ah)" style="stroke-width:1"/>
<!-- CASE emblem (mirrored lettering) -->
<path class="l" d="M600,211 L637.4,226.5 M600.5,213.5 L634,227.5 L639,228 L638.5,224" style="stroke-width:0.9"/>
<text transform="translate(636.5,223) rotate(22) scale(-0.78,1) skewX(-10)" font-size="17.5" style="fill:#fff;stroke:#000;stroke-width:1.2;letter-spacing:0.2px">CASE</text>
<path class="l" d="M644.7,226.4 C638,232 630,235 623,236.8" style="stroke-width:1"/>
<path class="l" d="M548.3,120.7 C543,122 537,125.5 532.5,130" style="stroke-width:1"/>
<path class="l" d="M638.5,66 C633,71 627,74.5 621.5,76.5" marker-end="url(#ah)" style="stroke-width:1"/>
<path class="l" d="M685,241 C680,247 676,253 672.6,260" marker-end="url(#ah)" style="stroke-width:1"/>
<path class="l" d="M667,258 C664,254 660,252 656,252.5" marker-end="url(#ah)" style="stroke-width:1"/>
<path class="l" d="M702,271 C696,271 690,270 686,268.5" style="stroke-width:0.9"/>
<!-- studs on shell side -->
<path class="o" d="M622,295.5 L640,302 L643,305.5 L641.5,308.5 L637,308 L620.5,300 Z" style="stroke-width:1"/>
<path class="o" d="M604,334.5 L620,341 L622,344.5 L619,346 L603,338.5 Z" style="stroke-width:1"/>
<path class="l" d="M612,338 L620,343" style="stroke-width:1.6"/>
<!-- leaders E, B, C -->
<path class="l" d="M631,351 C634,360 640,366 648,368.5" style="stroke-width:0.9"/>
<path class="l" d="M626,402 L646,409 M627,417 L645,425.5 M616,428.5 L623,431 M604,436.5 L613,441" style="stroke-width:0.9"/>
<path class="l" d="M722,386 L729,388 M726,383 L728,380.5" style="stroke-width:0.7"/>
<!-- N handle -->
<path class="l" d="M574,291 L584,313" style="stroke-width:3.2"/>
<path class="l" d="M574.3,291.7 L583.6,312.3" style="stroke-width:1.2;stroke:#fff"/>
<path class="o" d="M581,314 L588,311 L588.5,318 L584,320 Z" style="stroke-width:0.9"/>
<path class="l" d="M577,327 L583,318" style="stroke-width:0.8"/>
<!-- S clip inside opening -->
<path class="o" d="M537.5,281 L540.5,280 L541.5,292 L538.5,293 Z" style="stroke-width:0.9"/>
<path class="l" d="M538.5,293 C540,295.5 543.5,295 544.5,292.5 M531,278 L537,283 M547.5,280 L543,283.5" style="stroke-width:0.9"/>
<!-- rods 12 -->
<path class="l" d="M390,307 L398,284.5 C398.5,281.5 401.5,281.5 401,285" style="stroke-width:2"/>
<path class="l" d="M434,301 L435.3,332" style="stroke-width:2"/>
<circle cx="437.5" cy="306.3" r="1.4" class="o" style="stroke-width:0.8"/>
<path class="l" d="M478.7,265 L473.5,243 C473,238.5 469.5,238.5 470.5,243" style="stroke-width:2"/>
<path class="l" d="M443.7,266.6 C448,258 456,251 464.7,247.2" marker-end="url(#ah)" style="stroke-width:1"/>
<path class="l" d="M432.9,280.6 C422,285 412,288 401.5,289.2" marker-end="url(#ah)" style="stroke-width:1"/>
<path class="l" d="M432.9,280.6 L433.6,299" marker-end="url(#ah)" style="stroke-width:1"/>
<!-- pillar edge strip, clip 18, 51 -->
<path class="o" d="M476.4,249.5 L479.5,248 L479.5,335 L476.4,336.5 Z" style="stroke-width:0.8"/>
<path class="o" d="M478.8,271 L484.6,265.8 L490,270 L484,275.6 Z" style="stroke-width:1.2"/>
<circle cx="484.4" cy="270.6" r="1.3" class="l" style="stroke-width:0.8"/>
<path class="l" d="M464.7,266.6 C468,264 472,264.5 476.4,266.6" style="stroke-width:1"/>
<path class="l" d="M457.7,295.4 C459,303 466,309 469.4,318" marker-end="url(#ah)" style="stroke-width:1"/>
<path class="l" d="M460.8,315.6 L465.5,321" marker-end="url(#ah)" style="stroke-width:0.9"/>
<path class="o" d="M466.3,322 L469.8,321 L470.3,333 L466.8,334 Z" style="stroke-width:0.9"/>
<path class="l" d="M470,323.5 L476,323.5 M470.3,331.5 L476.4,331" style="stroke-width:0.8"/>
<!-- panel 49/50 white border + studs -->
<path class="wl" d="M459,403.5 L459,346.5 L477.3,337.5 M459,403.5 L550,356.5" style="stroke-width:1.2"/>
<path class="wl" d="M550,356.5 L550,296 L524.5,309.5" style="stroke-width:0.8"/>
<path d="M532.3,347 L532.6,371" stroke="#fff" stroke-width="1.8" fill="none"/>
<path class="l" d="M532.5,356 L532.7,373" style="stroke-width:0.8"/>
<path d="M486.5,373 L486.8,398" stroke="#fff" stroke-width="1.8" fill="none"/>
<path class="l" d="M486.7,384 L487,401" style="stroke-width:0.8"/>
<path class="l" d="M461,407.5 C463,413 466,415 470,415.5" marker-start="url(#ah)" style="stroke-width:1"/>
<!-- shell rim highlight lines -->
<path class="wl" d="M487,231.5 C500,231 520,234 545,243.5 C565,251 580,262 587,276 C590,284 591.5,296 591,308" style="stroke-width:1"/>
<path class="wl" d="M583.5,352 L581.5,416" style="stroke-width:0.9"/>
<path class="wl" d="M585.5,352 L583.5,417" style="stroke-width:0.7"/>
<path class="wl" d="M536,444.5 L580.8,419.3 M536,445 L536,470" style="stroke-width:0.9"/>
<!-- panel 10 arrows/leaders -->
<path class="l" d="M570,364 L562,358.5" marker-end="url(#ah)" style="stroke-width:0.9"/>
<path class="l" d="M548,385.5 L540,381" style="stroke-width:0.9"/>
<path class="l" d="M521.5,392.5 C525,393 528,396 529.5,401" style="stroke-width:0.9"/>
<path class="l" d="M502,403 L502.5,412" marker-end="url(#ah)" style="stroke-width:0.9"/>
<!-- bracket below panel 10, arrows -->
<path class="o" d="M505,436 L517.5,431.5 L520.5,435 L520,439 L508,443.5 Z" style="stroke-width:0.9"/>
<circle cx="506.5" cy="448" r="2.2" class="l" style="stroke-width:0.9"/>
<path class="l" d="M507,449 L507.5,461" marker-end="url(#ah)" style="stroke-width:0.9"/>
<path class="l" d="M508,447 L527,454.5" marker-end="url(#ah)" style="stroke-width:0.9"/>
<!-- H leader + narrow bracket near 49,50 -->
<path class="l" d="M459,432 L468,434 L473,437" style="stroke-width:0.9"/>
<path class="o" d="M476,437 L480.5,435 L481,466 L477,468 Z" style="stroke-width:0.8"/>
<!-- X leader -->
<path class="l" d="M557,464.5 C561,466.5 564,467 568,466.5" style="stroke-width:0.9"/>
<!-- panel 6 leaders -->
<path class="l" d="M372,437 C375,434 378,431 380,427.5" style="stroke-width:1"/>
<path class="l" d="M402,448 C408,449 414,452 418,456" style="stroke-width:0.9"/>
<path class="l" d="M347.5,432.5 L347.8,451" marker-start="url(#ah)" marker-end="url(#ah)" style="stroke-width:1"/>
<path class="k" d="M344,429 L352,430.5 L351.5,433 L344,431.5 Z"/>
<path class="l" d="M354,504 L360,507 M361.5,504 L366,506.5 L365.5,512 L361,509.5 Z" style="stroke-width:0.9"/>
<path class="l" d="M352,517 C357,519 361,523 362.5,527 M357,527.5 L366,531.5 L368,526.5 M363,533 L360,541" style="stroke-width:0.9"/>
<!-- lower wing flange of panel 6 + arrows -->
<path class="l" d="M266.8,470 L273.6,476.5 L354.5,433" style="stroke-width:1"/>
<path class="l" d="M282.7,465 L283.5,483" marker-end="url(#ah)" style="stroke-width:1"/>
<circle cx="282.6" cy="463.5" r="1" class="w"/>
<path class="l" d="M260,435 L260,444" marker-end="url(#ah)" style="stroke-width:0.9"/>
<path class="l" d="M253.5,447 L258,446" style="stroke-width:0.8"/>
<path class="k" d="M262,448 L264.5,447 L265,452 L262.5,453 Z"/>
<path class="w" d="M300,415 L304,413.5 L304.5,416 L300.5,417.5 Z"/>
<!-- plate 7 / 8 details -->
<path class="w" d="M203.5,337.5 L213.5,329.3 L214.8,330.6 L204.8,338.8 Z M217.5,349 L227.5,341 L228.8,342.3 L218.8,350.3 Z"/>
<path class="w" d="M206,322 L211.2,327 L213,325.5 L209,320.5 Z"/>
<path class="w" d="M256.7,411 L262,406 L268.5,409.5 L268.5,413.5 L263,416.5 Z"/>
<path class="wl" d="M169,356 L269.5,421.5" style="stroke-width:0.8"/>
<path class="wl" d="M211.8,456.5 L263,426.5" style="stroke-width:0.7"/>
<path class="l" d="M109.5,372.5 L110.9,386.5 M113.5,393 L115,399.5" style="stroke-width:0.9"/>
<path class="l" d="M169,340.5 L170.8,352" marker-end="url(#ah)" style="stroke-width:0.9"/>
<path class="l" d="M160.5,346 L162.5,357" style="stroke-width:0.8"/>
<path class="l" d="M224.7,328.7 L219.7,332" marker-end="url(#ah)" style="stroke-width:0.9"/>
<path class="l" d="M248.3,335.5 C244,337.5 240.5,341 238.2,345.6" style="stroke-width:1"/>
<path class="l" d="M266.8,317 C267,323 270,328 273.6,330.4" style="stroke-width:0.9"/>
<path class="l" d="M303.9,294 C309,296 312,300 314,305.8" style="stroke-width:1"/>
<path class="l" d="M145.6,437.2 C153,437.5 161,434.5 167.5,429.8" style="stroke-width:1"/>
<path class="l" d="M298.8,352.3 L302,365" marker-end="url(#ah)" style="stroke-width:0.9"/>
<circle cx="298.5" cy="351" r="1" class="w"/>
<path class="l" d="M297,372 L300,372 M298.5,372 L299.3,379" style="stroke-width:0.8"/>
<!-- panel 73 leaders -->
<path class="l" d="M125,716.5 C134,717 142,713 148.5,707.5" style="stroke-width:1"/>
<path class="l" d="M170,732.5 C180,730 188,726 196,720.5" style="stroke-width:0.9"/>
<!-- frame "1" arrow -->
<path class="l" d="M307,531 C318,535 326,548 328,563" marker-end="url(#ah)" style="stroke-width:1.8"/>
<!-- guards leaders -->
<path class="l" d="M290,733 C300,731 309,732 316,735.5" style="stroke-width:1"/>
<path class="l" d="M261.5,754 C262,762 264,770 267.5,777" style="stroke-width:1"/>
<path class="l" d="M482.5,630 C476,638 470,648 466.5,658" style="stroke-width:1"/>
<path class="l" d="M558,644.5 C552,646.5 547,648.5 542,649.5" marker-end="url(#ah)" style="stroke-width:1"/>
<path class="l" d="M518,746.5 C512,746.5 507,747.5 502.5,749" marker-end="url(#ah)" style="stroke-width:1"/>
<path class="l" d="M508.9,620 L508.9,636" marker-start="url(#ah)" style="stroke-width:0.9"/>
<path class="l" d="M537.4,628 L537.4,700" marker-start="url(#ah)" style="stroke-width:0.8;stroke-dasharray:5 2.5"/>
<path class="l" d="M246.6,772 L246.6,790" marker-start="url(#ah)" style="stroke-width:0.9"/>
<path class="l" d="M241,803 L245,797 L247,806" style="stroke-width:0.8"/>
<path class="l" d="M395,800 L395,810 M428.5,781 L428.5,789 M455.7,748 L455.7,767 M499.2,712 L499.2,720 M521,700 L521,710 M540.2,688 L540.2,697" style="stroke-width:0.9"/>
<path class="l" d="M477,760 L477,771 M498,756 L498,771 M477,745 L477,738 M498,748 L498,742" style="stroke-width:0.8"/>
<path class="l" d="M335.5,840 L337,847 M334,849 L337,847 L340,849.5" style="stroke-width:0.8"/>
<!-- box leaders -->
<path class="l" d="M695,465.5 C689,467 685,470.5 681.5,475" marker-end="url(#ah)" style="stroke-width:1.1"/>
<path class="l" d="M604,569 C604.5,562 607,557 611,553.5" marker-end="url(#ah)" style="stroke-width:1.1"/>
<path class="l" d="M698.5,567 C695,565 692,565 689,566.5" style="stroke-width:1"/>
<path class="l" d="M614.5,630 L624.5,632.5" marker-end="url(#ah)" style="stroke-width:1"/>
<path class="l" d="M615,601 L626,596 M637,592 L649,587.5 M674,596 L686,590.5 M708,606 L716,602.5 M613,653.5 L624,649.5 M651,661.5 L660,657.5 M688,670.5 L697,666.5 M708,660.5 L716,656" style="stroke-width:0.8"/>
<path class="l" d="M608,717.5 C613,712 620,708 627,706.5" marker-end="url(#ah)" style="stroke-width:1.1"/>
<path class="l" d="M715,747 C712,741 707,736.5 701.5,733.5" style="stroke-width:1.3"/>
<path class="l" d="M619,681 L625,687 M652.5,674.5 C656,678 659,680 663,681" style="stroke-width:0.9"/>
</g>

<!-- hardware row -->
<g id="hardware">
<path class="o" d="M55.6,872.8 L64.0,872.8 L65.0,874.3 L65.0,879.8 L54.6,879.8 L54.6,874.3 Z" style="stroke-width:1.2"/>
<path class="l" d="M57.7,874.0 L57.7,879.8 M62.1,874.0 L62.1,879.8" style="stroke-width:0.7"/>
<path class="o" d="M58.0,879.8 L63.7,879.8 L63.7,913.5 L58.0,913.5 Z" style="stroke-width:1.1"/>
<path class="l" d="M61.4,879.8 L61.4,913.5" style="stroke-width:1.3"/>
<path class="l" d="M58.0,898.3 L63.7,899.1 M58.0,900.0 L63.7,900.8 M58.0,901.7 L63.7,902.5 M58.0,903.4 L63.7,904.2 M58.0,905.1 L63.7,905.9 M58.0,906.8 L63.7,907.6 M58.0,908.5 L63.7,909.3 M58.0,910.2 L63.7,911.0 M58.0,911.9 L63.7,912.7 " style="stroke-width:0.8"/>
<ellipse cx="60.5" cy="919.2" rx="5.8" ry="3.2" fill="#fff" stroke="#000" stroke-width="1.5"/>
<ellipse cx="60.5" cy="919.0" rx="2.5" ry="1.4" fill="#fff" stroke="#000" stroke-width="0.9"/>
<path class="l" d="M54.9,920.0 A5.8,3.2 0 0 0 66.0,920.0" style="stroke-width:1.2"/>
<path class="k" d="M54.0,932.5 L57.1,929.0 L63.2,929.0 L66.3,932.5 L66.3,938.4 L63.2,940.7 L57.1,940.7 L54.0,938.4 Z"/>
<ellipse cx="60.1" cy="932.5" rx="2.5" ry="1.5" fill="#fff"/>
<path class="wl" d="M57.7,935.4 L57.7,939.7 M62.6,935.4 L62.6,939.7" style="stroke-width:0.6"/>
<path class="o" d="M91.9,873.3 L102.8,873.3 L103.8,874.8 L103.8,880.6 L90.9,880.6 L90.9,874.8 Z" style="stroke-width:1.2"/>
<path class="l" d="M94.8,874.5 L94.8,880.6 M100.2,874.5 L100.2,880.6" style="stroke-width:0.7"/>
<path class="o" d="M94.2,880.6 L100.5,880.6 L100.5,899.2 L94.2,899.2 Z" style="stroke-width:1.1"/>
<path class="l" d="M98.0,880.6 L98.0,899.2" style="stroke-width:1.3"/>
<path class="l" d="M94.2,889.0 L100.5,889.8 M94.2,890.7 L100.5,891.5 M94.2,892.4 L100.5,893.2 M94.2,894.1 L100.5,894.9 M94.2,895.8 L100.5,896.6 M94.2,897.5 L100.5,898.3 " style="stroke-width:0.8"/>
<ellipse cx="97.5" cy="905.4" rx="5.8" ry="3.6" fill="#fff" stroke="#000" stroke-width="1.5"/>
<ellipse cx="97.5" cy="905.1" rx="2.4" ry="1.5" fill="#fff" stroke="#000" stroke-width="0.9"/>
<path class="l" d="M92.0,906.2 A5.8,3.6 0 0 0 103.0,906.2" style="stroke-width:1.2"/>
<path class="k" d="M90.0,917.4 L92.8,914.2 L98.4,914.2 L101.2,917.4 L101.2,922.8 L98.4,925.0 L92.8,925.0 L90.0,922.8 Z"/>
<ellipse cx="95.6" cy="917.4" rx="2.2" ry="1.4" fill="#fff"/>
<path class="wl" d="M93.4,920.1 L93.4,924.0 M97.8,920.1 L97.8,924.0" style="stroke-width:0.6"/>
<path class="o" d="M125.6,873.8 L134.0,873.8 L135.0,875.3 L135.0,879.8 L124.6,879.8 L124.6,875.3 Z" style="stroke-width:1.2"/>
<path class="l" d="M127.7,875.0 L127.7,879.8 M132.1,875.0 L132.1,879.8" style="stroke-width:0.7"/>
<path class="o" d="M127.0,879.8 L132.8,879.8 L132.8,898.0 L127.0,898.0 Z" style="stroke-width:1.1"/>
<path class="l" d="M130.5,879.8 L130.5,898.0" style="stroke-width:1.3"/>
<path class="l" d="M127.0,888.0 L132.8,888.8 M127.0,889.7 L132.8,890.5 M127.0,891.4 L132.8,892.2 M127.0,893.1 L132.8,893.9 M127.0,894.8 L132.8,895.6 M127.0,896.5 L132.8,897.3 " style="stroke-width:0.8"/>
<ellipse cx="130.2" cy="905.0" rx="4.9" ry="3.2" fill="#fff" stroke="#000" stroke-width="1.5"/>
<ellipse cx="130.2" cy="904.8" rx="2.0" ry="1.4" fill="#fff" stroke="#000" stroke-width="0.9"/>
<path class="l" d="M125.6,905.8 A4.9,3.2 0 0 0 134.7,905.8" style="stroke-width:1.2"/>
<path class="k" d="M122.7,915.3 L125.5,912.0 L131.2,912.0 L134.0,915.3 L134.0,920.8 L131.2,923.0 L125.5,923.0 L122.7,920.8 Z"/>
<ellipse cx="128.3" cy="915.3" rx="2.3" ry="1.4" fill="#fff"/>
<path class="wl" d="M126.1,918.0 L126.1,922.0 M130.6,918.0 L130.6,922.0" style="stroke-width:0.6"/>
<path class="o" d="M157.4,872.0 L164.2,872.0 L165.2,873.5 L165.2,878.0 L156.4,878.0 L156.4,873.5 Z" style="stroke-width:1.2"/>
<path class="l" d="M159.0,873.2 L159.0,878.0 M162.7,873.2 L162.7,878.0" style="stroke-width:0.7"/>
<path class="o" d="M158.2,878.0 L163.4,878.0 L163.4,887.6 L158.2,887.6 Z" style="stroke-width:1.1"/>
<path class="l" d="M161.3,878.0 L161.3,887.6" style="stroke-width:1.3"/>
<path class="l" d="M158.2,882.3 L163.4,883.1 M158.2,884.0 L163.4,884.8 M158.2,885.7 L163.4,886.5 " style="stroke-width:0.8"/>
<ellipse cx="160.1" cy="894.4" rx="5.1" ry="4.4" fill="#000" stroke="#000" stroke-width="1.5"/>
<ellipse cx="160.1" cy="894.1" rx="2.1" ry="1.8" fill="#fff" stroke="#000" stroke-width="0.9"/>
<path class="l" d="M155.3,895.1 A5.1,4.4 0 0 0 164.9,895.1" style="stroke-width:1.2"/>
<path class="k" d="M152.3,904.5 L155.1,901.3 L160.6,901.3 L163.4,904.5 L163.4,909.9 L160.6,912.0 L155.1,912.0 L152.3,909.9 Z"/>
<ellipse cx="157.9" cy="904.5" rx="2.2" ry="1.4" fill="#fff"/>
<path class="wl" d="M155.6,907.2 L155.6,911.0 M160.1,907.2 L160.1,911.0" style="stroke-width:0.6"/>
<path class="o" d="M187.2,872.0 L194.0,872.0 L195.0,873.5 L195.0,878.5 L186.2,878.5 L186.2,873.5 Z" style="stroke-width:1.2"/>
<path class="l" d="M188.8,873.2 L188.8,878.5 M192.5,873.2 L192.5,878.5" style="stroke-width:0.7"/>
<path class="o" d="M188.5,878.5 L193.7,878.5 L193.7,890.0 L188.5,890.0 Z" style="stroke-width:1.1"/>
<path class="l" d="M191.6,878.5 L191.6,890.0" style="stroke-width:1.3"/>
<path class="l" d="M188.5,883.7 L193.7,884.5 M188.5,885.4 L193.7,886.2 M188.5,887.1 L193.7,887.9 M188.5,888.8 L193.7,889.6 " style="stroke-width:0.8"/>
<ellipse cx="191.0" cy="899.3" rx="4.5" ry="2.7" fill="#000" stroke="#000" stroke-width="1.5"/>
<ellipse cx="191.0" cy="899.0" rx="1.9" ry="1.1" fill="#fff" stroke="#000" stroke-width="0.9"/>
<path class="l" d="M186.8,900.1 A4.5,2.7 0 0 0 195.2,900.1" style="stroke-width:1.2"/>
<path class="k" d="M186.8,903.7 L189.1,901.0 L193.6,901.0 L195.8,903.7 L195.8,908.2 L193.6,910.0 L189.1,910.0 L186.8,908.2 Z"/>
<ellipse cx="191.3" cy="903.7" rx="1.8" ry="1.2" fill="#fff"/>
<path class="wl" d="M189.5,906.0 L189.5,909.0 M193.1,906.0 L193.1,909.0" style="stroke-width:0.6"/>
<path class="o" d="M221.3,869.7 L228.9,869.7 L229.9,871.2 L229.9,877.4 L220.3,877.4 L220.3,871.2 Z" style="stroke-width:1.2"/>
<path class="l" d="M223.2,870.9 L223.2,877.4 M227.2,870.9 L227.2,877.4" style="stroke-width:0.7"/>
<path class="o" d="M222.7,877.4 L227.5,877.4 L227.5,891.8 L222.7,891.8 Z" style="stroke-width:1.1"/>
<path class="l" d="M225.6,877.4 L225.6,891.8" style="stroke-width:1.3"/>
<path class="l" d="M222.7,883.9 L227.5,884.7 M222.7,885.6 L227.5,886.4 M222.7,887.3 L227.5,888.1 M222.7,889.0 L227.5,889.8 M222.7,890.7 L227.5,891.5 " style="stroke-width:0.8"/>
<ellipse cx="225.8" cy="895.9" rx="5.5" ry="4.1" fill="#fff" stroke="#000" stroke-width="1.5"/>
<path class="l" d="M220.6,896.7 A5.5,4.1 0 0 0 231.0,896.7" style="stroke-width:1.2"/>
<path class="o" d="M258.7,869.7 L267.2,869.7 L268.2,871.2 L268.2,877.4 L257.7,877.4 L257.7,871.2 Z" style="stroke-width:1.2"/>
<path class="l" d="M260.8,870.9 L260.8,877.4 M265.3,870.9 L265.3,877.4" style="stroke-width:0.7"/>
<path class="o" d="M260.0,877.4 L265.8,877.4 L265.8,894.0 L260.0,894.0 Z" style="stroke-width:1.1"/>
<path class="l" d="M263.5,877.4 L263.5,894.0" style="stroke-width:1.3"/>
<path class="l" d="M260.0,884.9 L265.8,885.7 M260.0,886.6 L265.8,887.4 M260.0,888.3 L265.8,889.1 M260.0,890.0 L265.8,890.8 M260.0,891.7 L265.8,892.5 M260.0,893.4 L265.8,894.2 " style="stroke-width:0.8"/>
<ellipse cx="263.6" cy="897.5" rx="4.6" ry="3.5" fill="#000" stroke="#000" stroke-width="1.5"/>
<ellipse cx="263.6" cy="897.2" rx="1.9" ry="1.5" fill="#fff" stroke="#000" stroke-width="0.9"/>
<path class="l" d="M259.3,898.3 A4.6,3.5 0 0 0 267.9,898.3" style="stroke-width:1.2"/>
<path class="k" d="M258.6,904.2 L261.0,901.3 L265.8,901.3 L268.2,904.2 L268.2,909.1 L265.8,911.0 L261.0,911.0 L258.6,909.1 Z"/>
<ellipse cx="263.4" cy="904.2" rx="1.9" ry="1.3" fill="#fff"/>
<path class="wl" d="M261.5,906.6 L261.5,910.0 M265.3,906.6 L265.3,910.0" style="stroke-width:0.6"/>
<path class="o" d="M294.6,869.7 L303.0,869.7 L304.0,871.2 L304.0,877.4 L293.6,877.4 L293.6,871.2 Z" style="stroke-width:1.2"/>
<path class="l" d="M296.7,870.9 L296.7,877.4 M301.1,870.9 L301.1,877.4" style="stroke-width:0.7"/>
<path class="o" d="M296.5,877.4 L302.0,877.4 L302.0,891.8 L296.5,891.8 Z" style="stroke-width:1.1"/>
<path class="l" d="M299.8,877.4 L299.8,891.8" style="stroke-width:1.3"/>
<path class="l" d="M296.5,883.9 L302.0,884.7 M296.5,885.6 L302.0,886.4 M296.5,887.3 L302.0,888.1 M296.5,889.0 L302.0,889.8 M296.5,890.7 L302.0,891.5 " style="stroke-width:0.8"/>
<ellipse cx="300.8" cy="895.9" rx="5.8" ry="4.1" fill="#fff" stroke="#000" stroke-width="1.5"/>
<ellipse cx="300.8" cy="895.6" rx="2.4" ry="1.7" fill="#fff" stroke="#000" stroke-width="0.9"/>
<path class="l" d="M295.3,896.7 A5.8,4.1 0 0 0 306.2,896.7" style="stroke-width:1.2"/>
<path class="o" d="M332.0,869.7 L340.5,869.7 L341.5,871.2 L341.5,877.4 L331.0,877.4 L331.0,871.2 Z" style="stroke-width:1.2"/>
<path class="l" d="M334.1,870.9 L334.1,877.4 M338.6,870.9 L338.6,877.4" style="stroke-width:0.7"/>
<path class="o" d="M333.4,877.4 L339.0,877.4 L339.0,891.8 L333.4,891.8 Z" style="stroke-width:1.1"/>
<path class="l" d="M336.8,877.4 L336.8,891.8" style="stroke-width:1.3"/>
<path class="l" d="M333.4,883.9 L339.0,884.7 M333.4,885.6 L339.0,886.4 M333.4,887.3 L339.0,888.1 M333.4,889.0 L339.0,889.8 M333.4,890.7 L339.0,891.5 " style="stroke-width:0.8"/>
<ellipse cx="336.2" cy="897.9" rx="5.2" ry="4.1" fill="#fff" stroke="#000" stroke-width="1.5"/>
<path class="l" d="M331.3,898.6 A5.2,4.1 0 0 0 341.2,898.6" style="stroke-width:1.2"/>
<path class="o" d="M369.0,869.7 L375.0,869.7 L376.0,871.2 L376.0,876.0 L368.0,876.0 L368.0,871.2 Z" style="stroke-width:1.2"/>
<path class="l" d="M370.4,870.9 L370.4,876.0 M373.8,870.9 L373.8,876.0" style="stroke-width:0.7"/>
<path class="o" d="M369.3,876.0 L374.0,876.0 L374.0,887.0 L369.3,887.0 Z" style="stroke-width:1.1"/>
<path class="l" d="M372.1,876.0 L372.1,887.0" style="stroke-width:1.3"/>
<path class="l" d="M369.3,881.0 L374.0,881.8 M369.3,882.7 L374.0,883.5 M369.3,884.4 L374.0,885.2 M369.3,886.1 L374.0,886.9 " style="stroke-width:0.8"/>
<ellipse cx="372.6" cy="889.4" rx="3.3" ry="2.4" fill="#fff" stroke="#000" stroke-width="1.5"/>
<ellipse cx="372.6" cy="889.1" rx="1.4" ry="1.0" fill="#fff" stroke="#000" stroke-width="0.9"/>
<path class="l" d="M369.6,890.2 A3.3,2.4 0 0 0 375.7,890.2" style="stroke-width:1.2"/>
<ellipse cx="370.8" cy="901.2" rx="6.8" ry="4.8" fill="#fff" stroke="#000" stroke-width="1.5"/>
<ellipse cx="370.8" cy="901.0" rx="2.8" ry="2.0" fill="#fff" stroke="#000" stroke-width="0.9"/>
<path class="l" d="M364.3,902.0 A6.8,4.8 0 0 0 377.2,902.0" style="stroke-width:1.2"/>
<path class="o" d="M400.8,867.8 L407.0,867.8 L408.0,869.3 L408.0,873.5 L399.8,873.5 L399.8,869.3 Z" style="stroke-width:1.2"/>
<path class="l" d="M402.3,869.0 L402.3,873.5 M405.7,869.0 L405.7,873.5" style="stroke-width:0.7"/>
<path class="o" d="M401.7,873.5 L406.0,873.5 L406.0,889.0 L401.7,889.0 Z" style="stroke-width:1.1"/>
<path class="l" d="M404.3,873.5 L404.3,889.0" style="stroke-width:1.3"/>
<path class="l" d="M401.7,880.5 L406.0,881.3 M401.7,882.2 L406.0,883.0 M401.7,883.9 L406.0,884.7 M401.7,885.6 L406.0,886.4 M401.7,887.3 L406.0,888.1 " style="stroke-width:0.8"/>
<ellipse cx="404.2" cy="892.2" rx="4.4" ry="3.2" fill="#fff" stroke="#000" stroke-width="1.5"/>
<path class="l" d="M400.1,893.0 A4.4,3.2 0 0 0 408.4,893.0" style="stroke-width:1.2"/>
<path class="k" d="M427.6,869.3 L429.9,867.0 L434.4,867.0 L436.6,869.3 L436.6,873.2 L434.4,874.8 L429.9,874.8 L427.6,873.2 Z"/>
<ellipse cx="432.1" cy="869.3" rx="1.8" ry="1.0" fill="#fff"/>
<path class="wl" d="M430.3,871.3 L430.3,873.8 M433.9,871.3 L433.9,873.8" style="stroke-width:0.6"/>
<path class="k" d="M426.3,880.9 L429.0,877.4 L434.3,877.4 L437.0,880.9 L437.0,886.7 L434.3,889.0 L429.0,889.0 L426.3,886.7 Z"/>
<ellipse cx="431.6" cy="880.9" rx="2.1" ry="1.5" fill="#fff"/>
<path class="wl" d="M429.5,883.8 L429.5,888.0 M433.8,883.8 L433.8,888.0" style="stroke-width:0.6"/>
<path class="o" d="M458.9,866.2 L466.7,866.2 L467.7,867.7 L467.7,873.5 L457.9,873.5 L457.9,867.7 Z" style="stroke-width:1.2"/>
<path class="l" d="M460.8,867.4 L460.8,873.5 M465.0,867.4 L465.0,873.5" style="stroke-width:0.7"/>
<path class="o" d="M460.0,873.5 L465.6,873.5 L465.6,889.0 L460.0,889.0 Z" style="stroke-width:1.1"/>
<path class="l" d="M463.4,873.5 L463.4,889.0" style="stroke-width:1.3"/>
<path class="l" d="M460.0,880.5 L465.6,881.3 M460.0,882.2 L465.6,883.0 M460.0,883.9 L465.6,884.7 M460.0,885.6 L465.6,886.4 M460.0,887.3 L465.6,888.1 " style="stroke-width:0.8"/>
<ellipse cx="462.8" cy="893.0" rx="4.9" ry="3.3" fill="#fff" stroke="#000" stroke-width="1.5"/>
<path class="l" d="M458.2,893.8 A4.9,3.3 0 0 0 467.4,893.8" style="stroke-width:1.2"/>
<path class="o" d="M493.3,864.4 L499.9,864.4 L500.9,865.9 L500.9,870.4 L492.3,870.4 L492.3,865.9 Z" style="stroke-width:1.2"/>
<path class="l" d="M494.9,865.6 L494.9,870.4 M498.5,865.6 L498.5,870.4" style="stroke-width:0.7"/>
<path class="o" d="M494.4,870.4 L498.8,870.4 L498.8,880.0 L494.4,880.0 Z" style="stroke-width:1.1"/>
<path class="l" d="M497.0,870.4 L497.0,880.0" style="stroke-width:1.3"/>
<path class="l" d="M494.4,874.7 L498.8,875.5 M494.4,876.4 L498.8,877.2 M494.4,878.1 L498.8,878.9 " style="stroke-width:0.8"/>
<ellipse cx="496.9" cy="885.2" rx="4.5" ry="2.6" fill="#fff" stroke="#000" stroke-width="1.5"/>
<ellipse cx="496.9" cy="884.9" rx="1.9" ry="1.1" fill="#fff" stroke="#000" stroke-width="0.9"/>
<path class="l" d="M492.6,886.0 A4.5,2.6 0 0 0 501.1,886.0" style="stroke-width:1.2"/>
<ellipse cx="495.9" cy="894.8" rx="8.1" ry="4.6" fill="#fff" stroke="#000" stroke-width="1.5"/>
<ellipse cx="495.9" cy="894.5" rx="3.4" ry="1.9" fill="#fff" stroke="#000" stroke-width="0.9"/>
<path class="l" d="M488.2,895.6 A8.1,4.6 0 0 0 503.7,895.6" style="stroke-width:1.2"/>
<path class="k" d="M490.5,906.9 L493.2,904.0 L498.7,904.0 L501.4,906.9 L501.4,911.8 L498.7,913.7 L493.2,913.7 L490.5,911.8 Z"/>
<ellipse cx="495.9" cy="906.9" rx="2.2" ry="1.3" fill="#fff"/>
<path class="wl" d="M493.8,909.3 L493.8,912.7 M498.1,909.3 L498.1,912.7" style="stroke-width:0.6"/>
<path class="o" d="M526.2,863.0 L532.8,863.0 L533.8,864.5 L533.8,868.3 L525.2,868.3 L525.2,864.5 Z" style="stroke-width:1.2"/>
<path class="l" d="M527.8,864.2 L527.8,868.3 M531.4,864.2 L531.4,868.3" style="stroke-width:0.7"/>
<path class="o" d="M527.3,868.3 L532.0,868.3 L532.0,880.0 L527.3,880.0 Z" style="stroke-width:1.1"/>
<path class="l" d="M530.1,868.3 L530.1,880.0" style="stroke-width:1.3"/>
<path class="l" d="M527.3,873.6 L532.0,874.4 M527.3,875.3 L532.0,876.1 M527.3,877.0 L532.0,877.8 M527.3,878.7 L532.0,879.5 " style="stroke-width:0.8"/>
<ellipse cx="529.2" cy="882.5" rx="4.5" ry="2.5" fill="#fff" stroke="#000" stroke-width="1.5"/>
<ellipse cx="529.2" cy="882.2" rx="1.9" ry="1.1" fill="#fff" stroke="#000" stroke-width="0.9"/>
<path class="l" d="M525.0,883.3 A4.5,2.5 0 0 0 533.5,883.3" style="stroke-width:1.2"/>
<ellipse cx="527.6" cy="892.9" rx="7.4" ry="3.9" fill="#fff" stroke="#000" stroke-width="1.5"/>
<ellipse cx="527.6" cy="892.6" rx="3.1" ry="1.6" fill="#fff" stroke="#000" stroke-width="0.9"/>
<path class="l" d="M520.6,893.7 A7.4,3.9 0 0 0 534.7,893.7" style="stroke-width:1.2"/>
<path class="k" d="M522.6,903.4 L525.2,900.7 L530.4,900.7 L533.0,903.4 L533.0,908.0 L530.4,909.8 L525.2,909.8 L522.6,908.0 Z"/>
<ellipse cx="527.8" cy="903.4" rx="2.1" ry="1.2" fill="#fff"/>
<path class="wl" d="M525.7,905.7 L525.7,908.8 M529.9,905.7 L529.9,908.8" style="stroke-width:0.6"/>
<path class="o" d="M560.0,861.8 L566.5,861.8 L567.5,863.3 L567.5,867.8 L559.0,867.8 L559.0,863.3 Z" style="stroke-width:1.2"/>
<path class="l" d="M561.5,863.0 L561.5,867.8 M565.1,863.0 L565.1,867.8" style="stroke-width:0.7"/>
<path class="o" d="M561.0,867.8 L565.4,867.8 L565.4,889.0 L561.0,889.0 Z" style="stroke-width:1.1"/>
<path class="l" d="M563.6,867.8 L563.6,889.0" style="stroke-width:1.3"/>
<path class="l" d="M561.0,881.6 L565.4,882.4 M561.0,883.3 L565.4,884.1 M561.0,885.0 L565.4,885.8 M561.0,886.7 L565.4,887.5 M561.0,888.4 L565.4,889.2 " style="stroke-width:0.8"/>
<path class="o" d="M548.7,897 L566,890.3 L581.3,897 L564,904.7 Z" style="stroke-width:1"/>
<path class="l" d="M551.2,896.0 L566.5,903.6 M550.9,898.1 L568.2,891.3 M553.6,895.1 L568.9,902.5 M553.1,899.2 L570.4,892.2 M556.1,894.1 L571.4,901.4 M555.3,900.3 L572.6,893.2 M558.6,893.2 L573.9,900.3 M557.4,901.4 L574.7,894.1 M561.1,892.2 L576.4,899.2 M559.6,902.5 L576.9,895.1 M563.5,891.3 L578.8,898.1 M561.8,903.6 L579.1,896.0 " style="stroke-width:0.9"/>
<ellipse cx="564.5" cy="897" rx="3.2" ry="1.8" class="o"/>
<path class="o" d="M543,914 L560,907 L579,914 L562,921.5 Z" style="stroke-width:1"/>
<ellipse cx="551" cy="913.5" rx="1.6" ry="1" class="o" style="stroke-width:0.8"/>
<ellipse cx="556" cy="911.5" rx="1.6" ry="1" class="o" style="stroke-width:0.8"/>
<ellipse cx="561" cy="909.5" rx="1.6" ry="1" class="o" style="stroke-width:0.8"/>
<ellipse cx="556" cy="916" rx="1.6" ry="1" class="o" style="stroke-width:0.8"/>
<ellipse cx="561" cy="914" rx="1.6" ry="1" class="o" style="stroke-width:0.8"/>
<ellipse cx="566" cy="912" rx="1.6" ry="1" class="o" style="stroke-width:0.8"/>
<ellipse cx="561" cy="918.5" rx="1.6" ry="1" class="o" style="stroke-width:0.8"/>
<ellipse cx="566" cy="916.5" rx="1.6" ry="1" class="o" style="stroke-width:0.8"/>
<ellipse cx="571" cy="914.5" rx="1.6" ry="1" class="o" style="stroke-width:0.8"/>
<ellipse cx="563.5" cy="910" rx="2.6" ry="2.2" class="k"/>
<ellipse cx="564.5" cy="927.5" rx="7.2" ry="3.6" fill="#fff" stroke="#000" stroke-width="1.5"/>
<ellipse cx="564.5" cy="927.2" rx="3.0" ry="1.5" fill="#fff" stroke="#000" stroke-width="0.9"/>
<path class="l" d="M557.6,928.2 A7.2,3.6 0 0 0 571.4,928.2" style="stroke-width:1.2"/>
<path class="k" d="M559.7,939.5 L562.1,935.9 L566.9,935.9 L569.3,939.5 L569.3,945.4 L566.9,947.8 L562.1,947.8 L559.7,945.4 Z"/>
<ellipse cx="564.5" cy="939.5" rx="1.9" ry="1.5" fill="#fff"/>
<path class="wl" d="M562.6,942.4 L562.6,946.8 M566.4,942.4 L566.4,946.8" style="stroke-width:0.6"/>
<path class="l" d="M572,899 L580,898.5 M572,913 L579,913 M572,927.5 L579,928 M570,940 C574,940 576,941 580,942 M569,946 C573,950 576,953 580,955" style="stroke-width:0.9"/>
<path class="o" d="M601.5,863.0 L608.0,863.0 L609.0,864.5 L609.0,868.8 L600.5,868.8 L600.5,864.5 Z" style="stroke-width:1.2"/>
<path class="l" d="M603.0,864.2 L603.0,868.8 M606.6,864.2 L606.6,868.8" style="stroke-width:0.7"/>
<path class="o" d="M601.9,868.8 L606.7,868.8 L606.7,880.7 L601.9,880.7 Z" style="stroke-width:1.1"/>
<path class="l" d="M604.8,868.8 L604.8,880.7" style="stroke-width:1.3"/>
<path class="l" d="M601.9,874.2 L606.7,875.0 M601.9,875.9 L606.7,876.7 M601.9,877.6 L606.7,878.4 M601.9,879.3 L606.7,880.1 " style="stroke-width:0.8"/>
<ellipse cx="604.8" cy="886.2" rx="5.2" ry="3.2" fill="#000" stroke="#000" stroke-width="1.5"/>
<ellipse cx="604.8" cy="885.9" rx="2.2" ry="1.3" fill="#fff" stroke="#000" stroke-width="0.9"/>
<path class="l" d="M599.8,887.0 A5.2,3.2 0 0 0 609.7,887.0" style="stroke-width:1.2"/>
<ellipse cx="604.0" cy="900.4" rx="7.0" ry="4.4" fill="#fff" stroke="#000" stroke-width="1.5"/>
<ellipse cx="604.0" cy="900.1" rx="2.9" ry="1.8" fill="#fff" stroke="#000" stroke-width="0.9"/>
<path class="l" d="M597.3,901.1 A7.0,4.4 0 0 0 610.7,901.1" style="stroke-width:1.2"/>
<path class="k" d="M597.0,913.9 L600.0,911.0 L606.0,911.0 L609.0,913.9 L609.0,918.6 L606.0,920.5 L600.0,920.5 L597.0,918.6 Z"/>
<ellipse cx="603.0" cy="913.9" rx="2.4" ry="1.2" fill="#fff"/>
<path class="wl" d="M600.6,916.2 L600.6,919.5 M605.4,916.2 L605.4,919.5" style="stroke-width:0.6"/>
<path class="o" d="M637.4,861.6 L647.4,861.6 L648.4,863.1 L648.4,871.0 L636.4,871.0 L636.4,863.1 Z" style="stroke-width:1.2"/>
<path class="l" d="M640.0,862.8 L640.0,871.0 M645.0,862.8 L645.0,871.0" style="stroke-width:0.7"/>
<path class="o" d="M638.8,871.0 L645.0,871.0 L645.0,888.0 L638.8,888.0 Z" style="stroke-width:1.1"/>
<path class="l" d="M642.5,871.0 L642.5,888.0" style="stroke-width:1.3"/>
<path class="l" d="M638.8,878.6 L645.0,879.4 M638.8,880.4 L645.0,881.1 M638.8,882.1 L645.0,882.9 M638.8,883.8 L645.0,884.6 M638.8,885.5 L645.0,886.3 M638.8,887.2 L645.0,888.0 " style="stroke-width:0.8"/>
<ellipse cx="641.9" cy="891.5" rx="5.5" ry="3.5" fill="#fff" stroke="#000" stroke-width="1.5"/>
<ellipse cx="641.9" cy="891.2" rx="2.3" ry="1.5" fill="#fff" stroke="#000" stroke-width="0.9"/>
<path class="l" d="M636.7,892.3 A5.5,3.5 0 0 0 647.1,892.3" style="stroke-width:1.2"/>
<path class="k" d="M635.0,903.3 L638.0,900.0 L644.0,900.0 L647.0,903.3 L647.0,908.8 L644.0,911.0 L638.0,911.0 L635.0,908.8 Z"/>
<ellipse cx="641.0" cy="903.3" rx="2.4" ry="1.4" fill="#fff"/>
<path class="wl" d="M638.6,906.0 L638.6,910.0 M643.4,906.0 L643.4,910.0" style="stroke-width:0.6"/>
<path class="o" d="M671.0,861.6 L681.0,861.6 L682.0,863.1 L682.0,871.0 L670.0,871.0 L670.0,863.1 Z" style="stroke-width:1.2"/>
<path class="l" d="M673.6,862.8 L673.6,871.0 M678.6,862.8 L678.6,871.0" style="stroke-width:0.7"/>
<path class="o" d="M672.4,871.0 L679.5,871.0 L679.5,892.7 L672.4,892.7 Z" style="stroke-width:1.1"/>
<path class="l" d="M676.7,871.0 L676.7,892.7" style="stroke-width:1.3"/>
<path class="l" d="M672.4,880.8 L679.5,881.6 M672.4,882.5 L679.5,883.3 M672.4,884.2 L679.5,885.0 M672.4,885.9 L679.5,886.7 M672.4,887.6 L679.5,888.4 M672.4,889.3 L679.5,890.1 M672.4,891.0 L679.5,891.8 " style="stroke-width:0.8"/>
<path class="k" d="M670.0,894.9 L672.8,892.7 L678.2,892.7 L681.0,894.9 L681.0,898.5 L678.2,900.0 L672.8,900.0 L670.0,898.5 Z"/>
<ellipse cx="675.5" cy="894.9" rx="2.2" ry="0.9" fill="#fff"/>
<path class="wl" d="M673.3,896.7 L673.3,899.0 M677.7,896.7 L677.7,899.0" style="stroke-width:0.6"/>
<path class="k" d="M669.0,903.3 L672.0,900.0 L678.0,900.0 L681.0,903.3 L681.0,908.8 L678.0,911.0 L672.0,911.0 L669.0,908.8 Z"/>
<ellipse cx="675.0" cy="903.3" rx="2.4" ry="1.4" fill="#fff"/>
<path class="wl" d="M672.6,906.0 L672.6,910.0 M677.4,906.0 L677.4,910.0" style="stroke-width:0.6"/>
<path class="o" d="M700.7,861.6 L711.0,861.6 L712.0,863.1 L712.0,871.0 L699.7,871.0 L699.7,863.1 Z" style="stroke-width:1.2"/>
<path class="l" d="M703.4,862.8 L703.4,871.0 M708.6,862.8 L708.6,871.0" style="stroke-width:0.7"/>
<path class="o" d="M702.5,871.0 L709.7,871.0 L709.7,893.7 L702.5,893.7 Z" style="stroke-width:1.1"/>
<path class="l" d="M706.8,871.0 L706.8,893.7" style="stroke-width:1.3"/>
<path class="l" d="M702.5,881.2 L709.7,882.0 M702.5,882.9 L709.7,883.7 M702.5,884.6 L709.7,885.4 M702.5,886.3 L709.7,887.1 M702.5,888.0 L709.7,888.8 M702.5,889.7 L709.7,890.5 M702.5,891.4 L709.7,892.2 M702.5,893.1 L709.7,893.9 " style="stroke-width:0.8"/>
<ellipse cx="705.4" cy="902.2" rx="5.4" ry="4.8" fill="#fff" stroke="#000" stroke-width="1.5"/>
<path class="l" d="M700.3,903.0 A5.4,4.8 0 0 0 710.4,903.0" style="stroke-width:1.2"/>
</g>
<!-- labels -->
<g id="labels">
<text transform="translate(552.0,124.5) scale(0.66,1)" text-anchor="middle" font-size="12.5">11</text>
<text transform="translate(441.0,278.5) scale(0.66,1)" text-anchor="middle" font-size="12.5">12</text>
<text transform="translate(465.0,281.0) scale(0.66,1)" text-anchor="middle" font-size="12.5">18</text>
<text transform="translate(464.5,296.5) scale(0.66,1)" text-anchor="middle" font-size="12.5">51</text>
<text transform="translate(300.5,293.5) scale(0.66,1)" text-anchor="middle" font-size="12.5">9</text>
<text transform="translate(253.0,336.0) scale(0.66,1)" text-anchor="middle" font-size="12.5">7</text>
<text transform="translate(142.2,441.7) scale(0.66,1)" text-anchor="middle" font-size="12.5">8</text>
<text transform="translate(369.7,444.5) scale(0.66,1)" text-anchor="middle" font-size="12.5">6</text>
<text transform="translate(303.0,535.1) scale(0.66,1)" text-anchor="middle" font-size="12.5">1</text>
<text transform="translate(469.8,420.0) scale(0.66,1)" text-anchor="middle" font-size="12.5">49,</text>
<text transform="translate(486.0,420.3) scale(0.66,1)" text-anchor="middle" font-size="12.5">50</text>
<text transform="translate(517.5,396.0) scale(0.66,1)" text-anchor="middle" font-size="12.5">10</text>
<text transform="translate(652.5,228.8) scale(0.66,1)" text-anchor="middle" font-size="12.5">13,</text>
<text transform="translate(667.5,229.3) scale(0.66,1)" text-anchor="middle" font-size="12.5">14,</text>
<text transform="translate(683.0,229.5) scale(0.66,1)" text-anchor="middle" font-size="12.5">15,</text>
<text transform="translate(690.5,241.2) scale(0.66,1)" text-anchor="middle" font-size="12.5">19</text>
<text transform="translate(632.0,187.0) scale(0.66,1)" text-anchor="middle" font-size="12.5">16</text>
<text transform="translate(616.3,175.1) scale(0.66,1)" text-anchor="middle" font-size="12.5">17</text>
<text transform="translate(643.8,67.5) scale(0.66,1)" text-anchor="middle" font-size="12.5">64</text>
<text transform="translate(687.7,136.5) scale(0.66,1)" text-anchor="middle" font-size="12.5">62,</text>
<text transform="translate(701.4,130.5) scale(0.66,1)" text-anchor="middle" font-size="12.5">63</text>
<text transform="translate(699.6,466.5) scale(0.66,1)" text-anchor="middle" font-size="12.5">39</text>
<text transform="translate(605.5,580.2) scale(0.66,1)" text-anchor="middle" font-size="12.5">40</text>
<text transform="translate(704.3,573.2) scale(0.66,1)" text-anchor="middle" font-size="12.5">41</text>
<text transform="translate(609.0,633.0) scale(0.66,1)" text-anchor="middle" font-size="12.5">56</text>
<text transform="translate(605.0,717.9) scale(0.66,1)" text-anchor="middle" font-size="12.5">44</text>
<text transform="translate(715.0,760.2) scale(0.66,1)" text-anchor="middle" font-size="12.5">42</text>
<text transform="translate(715.0,776.3) scale(0.66,1)" text-anchor="middle" font-size="12.5">43</text>
<text transform="translate(120.2,720.8) scale(0.66,1)" text-anchor="middle" font-size="12.5">73</text>
<text transform="translate(285.0,737.5) scale(0.66,1)" text-anchor="middle" font-size="12.5">4</text>
<text transform="translate(261.0,752.5) scale(0.66,1)" text-anchor="middle" font-size="12.5">5</text>
<text transform="translate(486.8,632.9) scale(0.66,1)" text-anchor="middle" font-size="12.5">2</text>
<text transform="translate(565.0,647.5) scale(0.66,1)" text-anchor="middle" font-size="12.5">69</text>
<text transform="translate(524.0,751.5) scale(0.66,1)" text-anchor="middle" font-size="12.5">3</text>
<text transform="translate(457.0,317.8) scale(0.8,1)" text-anchor="middle" font-size="12">S</text>
<text x="451.4" y="312.3" text-anchor="middle" font-size="6.5" style="stroke-width:0.15px">&quot;</text>
<text x="462.6" y="312.3" text-anchor="middle" font-size="6.5" style="stroke-width:0.15px">&quot;</text>
<text transform="translate(552.0,283.6) scale(0.8,1)" text-anchor="middle" font-size="12">S</text>
<text x="546.4" y="278.1" text-anchor="middle" font-size="6.5" style="stroke-width:0.15px">&quot;</text>
<text x="557.6" y="278.1" text-anchor="middle" font-size="6.5" style="stroke-width:0.15px">&quot;</text>
<text transform="translate(574.5,334.3) scale(0.8,1)" text-anchor="middle" font-size="12">N</text>
<text x="568.9" y="328.8" text-anchor="middle" font-size="6.5" style="stroke-width:0.15px">&quot;</text>
<text x="580.1" y="328.8" text-anchor="middle" font-size="6.5" style="stroke-width:0.15px">&quot;</text>
<text transform="translate(265.0,313.3) scale(0.8,1)" text-anchor="middle" font-size="12">H</text>
<text x="259.4" y="307.8" text-anchor="middle" font-size="6.5" style="stroke-width:0.15px">&quot;</text>
<text x="270.6" y="307.8" text-anchor="middle" font-size="6.5" style="stroke-width:0.15px">&quot;</text>
<text transform="translate(231.5,325.3) scale(0.8,1)" text-anchor="middle" font-size="12">M</text>
<text x="225.9" y="319.8" text-anchor="middle" font-size="6.5" style="stroke-width:0.15px">&quot;</text>
<text x="237.1" y="319.8" text-anchor="middle" font-size="6.5" style="stroke-width:0.15px">&quot;</text>
<text transform="translate(168.0,336.3) scale(0.8,1)" text-anchor="middle" font-size="12">H</text>
<text x="162.4" y="330.8" text-anchor="middle" font-size="6.5" style="stroke-width:0.15px">&quot;</text>
<text x="173.6" y="330.8" text-anchor="middle" font-size="6.5" style="stroke-width:0.15px">&quot;</text>
<text transform="translate(107.5,368.3) scale(0.8,1)" text-anchor="middle" font-size="12">L</text>
<text x="101.9" y="362.8" text-anchor="middle" font-size="6.5" style="stroke-width:0.15px">&quot;</text>
<text x="113.1" y="362.8" text-anchor="middle" font-size="6.5" style="stroke-width:0.15px">&quot;</text>
<text transform="translate(248.3,452.6) scale(0.8,1)" text-anchor="middle" font-size="12">D</text>
<text x="242.7" y="447.1" text-anchor="middle" font-size="6.5" style="stroke-width:0.15px">&quot;</text>
<text x="253.9" y="447.1" text-anchor="middle" font-size="6.5" style="stroke-width:0.15px">&quot;</text>
<text transform="translate(283.7,495.7) scale(0.8,1)" text-anchor="middle" font-size="12">H</text>
<text x="278.1" y="490.2" text-anchor="middle" font-size="6.5" style="stroke-width:0.15px">&quot;</text>
<text x="289.3" y="490.2" text-anchor="middle" font-size="6.5" style="stroke-width:0.15px">&quot;</text>
<text transform="translate(300.5,495.5) scale(0.8,1)" text-anchor="middle" font-size="11.5">F</text>
<text x="295.1" y="490.2" text-anchor="middle" font-size="6.5" style="stroke-width:0.15px">&quot;</text>
<text x="305.9" y="490.2" text-anchor="middle" font-size="6.5" style="stroke-width:0.15px">&quot;</text>
<text transform="translate(305.6,402.1) scale(0.8,1)" text-anchor="middle" font-size="12">M</text>
<text x="300.0" y="396.6" text-anchor="middle" font-size="6.5" style="stroke-width:0.15px">&quot;</text>
<text x="311.2" y="396.6" text-anchor="middle" font-size="6.5" style="stroke-width:0.15px">&quot;</text>
<text transform="translate(347.8,461.8) scale(0.8,1)" text-anchor="middle" font-size="12">H</text>
<text x="342.2" y="456.3" text-anchor="middle" font-size="6.5" style="stroke-width:0.15px">&quot;</text>
<text x="353.4" y="456.3" text-anchor="middle" font-size="6.5" style="stroke-width:0.15px">&quot;</text>
<text transform="translate(395.6,453.3) scale(0.8,1)" text-anchor="middle" font-size="12">H</text>
<text x="390.0" y="447.8" text-anchor="middle" font-size="6.5" style="stroke-width:0.15px">&quot;</text>
<text x="401.2" y="447.8" text-anchor="middle" font-size="6.5" style="stroke-width:0.15px">&quot;</text>
<text transform="translate(347.0,505.6) scale(0.8,1)" text-anchor="middle" font-size="12">D</text>
<text x="341.4" y="500.1" text-anchor="middle" font-size="6.5" style="stroke-width:0.15px">&quot;</text>
<text x="352.6" y="500.1" text-anchor="middle" font-size="6.5" style="stroke-width:0.15px">&quot;</text>
<text transform="translate(344.4,520.7) scale(0.8,1)" text-anchor="middle" font-size="12">H</text>
<text x="338.8" y="515.2" text-anchor="middle" font-size="6.5" style="stroke-width:0.15px">&quot;</text>
<text x="350.0" y="515.2" text-anchor="middle" font-size="6.5" style="stroke-width:0.15px">&quot;</text>
<text transform="translate(454.5,433.3) scale(0.8,1)" text-anchor="middle" font-size="12">H</text>
<text x="448.9" y="427.8" text-anchor="middle" font-size="6.5" style="stroke-width:0.15px">&quot;</text>
<text x="460.1" y="427.8" text-anchor="middle" font-size="6.5" style="stroke-width:0.15px">&quot;</text>
<text transform="translate(502.0,402.3) scale(0.8,1)" text-anchor="middle" font-size="12">H</text>
<text x="496.4" y="396.8" text-anchor="middle" font-size="6.5" style="stroke-width:0.15px">&quot;</text>
<text x="507.6" y="396.8" text-anchor="middle" font-size="6.5" style="stroke-width:0.15px">&quot;</text>
<text transform="translate(565.3,480.3) scale(0.8,1)" text-anchor="middle" font-size="12">X</text>
<text x="559.7" y="474.8" text-anchor="middle" font-size="6.5" style="stroke-width:0.15px">&quot;</text>
<text x="570.9" y="474.8" text-anchor="middle" font-size="6.5" style="stroke-width:0.15px">&quot;</text>
<text transform="translate(652.3,413.9) scale(0.8,1)" text-anchor="middle" font-size="11.5">B</text>
<text x="646.9" y="408.6" text-anchor="middle" font-size="6.5" style="stroke-width:0.15px">&quot;</text>
<text x="657.7" y="408.6" text-anchor="middle" font-size="6.5" style="stroke-width:0.15px">&quot;</text>
<text transform="translate(651.3,430.5) scale(0.8,1)" text-anchor="middle" font-size="11.5">B</text>
<text x="645.9" y="425.2" text-anchor="middle" font-size="6.5" style="stroke-width:0.15px">&quot;</text>
<text x="656.7" y="425.2" text-anchor="middle" font-size="6.5" style="stroke-width:0.15px">&quot;</text>
<text transform="translate(628.5,435.7) scale(0.8,1)" text-anchor="middle" font-size="11.5">B</text>
<text x="623.1" y="430.4" text-anchor="middle" font-size="6.5" style="stroke-width:0.15px">&quot;</text>
<text x="633.9" y="430.4" text-anchor="middle" font-size="6.5" style="stroke-width:0.15px">&quot;</text>
<text transform="translate(619.2,446.1) scale(0.8,1)" text-anchor="middle" font-size="11.5">B</text>
<text x="613.8" y="440.8" text-anchor="middle" font-size="6.5" style="stroke-width:0.15px">&quot;</text>
<text x="624.6" y="440.8" text-anchor="middle" font-size="6.5" style="stroke-width:0.15px">&quot;</text>
<text transform="translate(652.3,374.7) scale(0.8,1)" text-anchor="middle" font-size="12">E</text>
<text x="646.7" y="369.2" text-anchor="middle" font-size="6.5" style="stroke-width:0.15px">&quot;</text>
<text x="657.9" y="369.2" text-anchor="middle" font-size="6.5" style="stroke-width:0.15px">&quot;</text>
<text transform="translate(709.5,275.6) scale(0.8,1)" text-anchor="middle" font-size="12">A</text>
<text x="703.9" y="270.1" text-anchor="middle" font-size="6.5" style="stroke-width:0.15px">&quot;</text>
<text x="715.1" y="270.1" text-anchor="middle" font-size="6.5" style="stroke-width:0.15px">&quot;</text>
<text transform="translate(724.8,394.9) scale(0.8,1)" text-anchor="middle" font-size="12">C</text>
<text x="719.2" y="389.4" text-anchor="middle" font-size="6.5" style="stroke-width:0.15px">&quot;</text>
<text x="730.4" y="389.4" text-anchor="middle" font-size="6.5" style="stroke-width:0.15px">&quot;</text>
<text transform="translate(627.0,61.6) scale(0.8,1)" text-anchor="middle" font-size="11.5">U</text>
<text x="621.6" y="56.3" text-anchor="middle" font-size="6.5" style="stroke-width:0.15px">&quot;</text>
<text x="632.4" y="56.3" text-anchor="middle" font-size="6.5" style="stroke-width:0.15px">&quot;</text>
<text transform="translate(681.0,52.1) scale(0.8,1)" text-anchor="middle" font-size="11.5">U</text>
<text x="675.6" y="46.8" text-anchor="middle" font-size="6.5" style="stroke-width:0.15px">&quot;</text>
<text x="686.4" y="46.8" text-anchor="middle" font-size="6.5" style="stroke-width:0.15px">&quot;</text>
<text transform="translate(610.0,606.6) scale(0.8,1)" text-anchor="middle" font-size="11.5">T</text>
<text x="604.6" y="601.3" text-anchor="middle" font-size="6.5" style="stroke-width:0.15px">&quot;</text>
<text x="615.4" y="601.3" text-anchor="middle" font-size="6.5" style="stroke-width:0.15px">&quot;</text>
<text transform="translate(719.6,607.4) scale(0.8,1)" text-anchor="middle" font-size="11.5">T</text>
<text x="714.2" y="602.1" text-anchor="middle" font-size="6.5" style="stroke-width:0.15px">&quot;</text>
<text x="725.0" y="602.1" text-anchor="middle" font-size="6.5" style="stroke-width:0.15px">&quot;</text>
<text transform="translate(608.0,659.4) scale(0.8,1)" text-anchor="middle" font-size="11.5">T</text>
<text x="602.6" y="654.1" text-anchor="middle" font-size="6.5" style="stroke-width:0.15px">&quot;</text>
<text x="613.4" y="654.1" text-anchor="middle" font-size="6.5" style="stroke-width:0.15px">&quot;</text>
<text transform="translate(720.4,656.8) scale(0.8,1)" text-anchor="middle" font-size="11.5">T</text>
<text x="715.0" y="651.5" text-anchor="middle" font-size="6.5" style="stroke-width:0.15px">&quot;</text>
<text x="725.8" y="651.5" text-anchor="middle" font-size="6.5" style="stroke-width:0.15px">&quot;</text>
<text transform="translate(615.0,680.7) scale(0.8,1)" text-anchor="middle" font-size="11.5">R</text>
<text x="609.6" y="675.4" text-anchor="middle" font-size="6.5" style="stroke-width:0.15px">&quot;</text>
<text x="620.4" y="675.4" text-anchor="middle" font-size="6.5" style="stroke-width:0.15px">&quot;</text>
<text transform="translate(648.0,676.1) scale(0.8,1)" text-anchor="middle" font-size="11.5">R</text>
<text x="642.6" y="670.8" text-anchor="middle" font-size="6.5" style="stroke-width:0.15px">&quot;</text>
<text x="653.4" y="670.8" text-anchor="middle" font-size="6.5" style="stroke-width:0.15px">&quot;</text>
<text transform="translate(163.0,740.0) scale(0.8,1)" text-anchor="middle" font-size="12">W</text>
<text x="157.4" y="734.5" text-anchor="middle" font-size="6.5" style="stroke-width:0.15px">&quot;</text>
<text x="168.6" y="734.5" text-anchor="middle" font-size="6.5" style="stroke-width:0.15px">&quot;</text>
<text transform="translate(246.6,770.1) scale(0.8,1)" text-anchor="middle" font-size="11.5">K</text>
<text x="241.2" y="764.8" text-anchor="middle" font-size="6.5" style="stroke-width:0.15px">&quot;</text>
<text x="252.0" y="764.8" text-anchor="middle" font-size="6.5" style="stroke-width:0.15px">&quot;</text>
<text transform="translate(395.0,821.1) scale(0.8,1)" text-anchor="middle" font-size="11.5">K</text>
<text x="389.6" y="815.8" text-anchor="middle" font-size="6.5" style="stroke-width:0.15px">&quot;</text>
<text x="400.4" y="815.8" text-anchor="middle" font-size="6.5" style="stroke-width:0.15px">&quot;</text>
<text transform="translate(428.5,799.1) scale(0.8,1)" text-anchor="middle" font-size="11.5">K</text>
<text x="423.1" y="793.8" text-anchor="middle" font-size="6.5" style="stroke-width:0.15px">&quot;</text>
<text x="433.9" y="793.8" text-anchor="middle" font-size="6.5" style="stroke-width:0.15px">&quot;</text>
<text transform="translate(455.7,777.6) scale(0.8,1)" text-anchor="middle" font-size="11.5">K</text>
<text x="450.3" y="772.3" text-anchor="middle" font-size="6.5" style="stroke-width:0.15px">&quot;</text>
<text x="461.1" y="772.3" text-anchor="middle" font-size="6.5" style="stroke-width:0.15px">&quot;</text>
<text transform="translate(499.2,730.1) scale(0.8,1)" text-anchor="middle" font-size="11.5">K</text>
<text x="493.8" y="724.8" text-anchor="middle" font-size="6.5" style="stroke-width:0.15px">&quot;</text>
<text x="504.6" y="724.8" text-anchor="middle" font-size="6.5" style="stroke-width:0.15px">&quot;</text>
<text transform="translate(521.0,720.1) scale(0.8,1)" text-anchor="middle" font-size="11.5">K</text>
<text x="515.6" y="714.8" text-anchor="middle" font-size="6.5" style="stroke-width:0.15px">&quot;</text>
<text x="526.4" y="714.8" text-anchor="middle" font-size="6.5" style="stroke-width:0.15px">&quot;</text>
<text transform="translate(540.2,707.1) scale(0.8,1)" text-anchor="middle" font-size="11.5">K</text>
<text x="534.8" y="701.8" text-anchor="middle" font-size="6.5" style="stroke-width:0.15px">&quot;</text>
<text x="545.6" y="701.8" text-anchor="middle" font-size="6.5" style="stroke-width:0.15px">&quot;</text>
<text transform="translate(477.0,781.1) scale(0.8,1)" text-anchor="middle" font-size="11.5">F</text>
<text x="471.6" y="775.8" text-anchor="middle" font-size="6.5" style="stroke-width:0.15px">&quot;</text>
<text x="482.4" y="775.8" text-anchor="middle" font-size="6.5" style="stroke-width:0.15px">&quot;</text>
<text transform="translate(498.0,781.1) scale(0.8,1)" text-anchor="middle" font-size="11.5">F</text>
<text x="492.6" y="775.8" text-anchor="middle" font-size="6.5" style="stroke-width:0.15px">&quot;</text>
<text x="503.4" y="775.8" text-anchor="middle" font-size="6.5" style="stroke-width:0.15px">&quot;</text>
<text transform="translate(508.9,618.5) scale(0.8,1)" text-anchor="middle" font-size="12">V</text>
<text x="503.3" y="613.0" text-anchor="middle" font-size="6.5" style="stroke-width:0.15px">&quot;</text>
<text x="514.5" y="613.0" text-anchor="middle" font-size="6.5" style="stroke-width:0.15px">&quot;</text>
<text transform="translate(537.4,626.3) scale(0.8,1)" text-anchor="middle" font-size="12">V</text>
<text x="531.8" y="620.8" text-anchor="middle" font-size="6.5" style="stroke-width:0.15px">&quot;</text>
<text x="543.0" y="620.8" text-anchor="middle" font-size="6.5" style="stroke-width:0.15px">&quot;</text>
<text transform="translate(59.3,869.5) scale(0.95,1)" text-anchor="middle" font-size="12.5">A</text>
<text transform="translate(96.8,869.5) scale(0.95,1)" text-anchor="middle" font-size="12.5">B</text>
<text transform="translate(128.4,868.7) scale(0.95,1)" text-anchor="middle" font-size="12.5">C</text>
<text transform="translate(160.8,868.7) scale(0.95,1)" text-anchor="middle" font-size="12.5">D</text>
<text transform="translate(190.6,868.7) scale(0.95,1)" text-anchor="middle" font-size="12.5">E</text>
<text transform="translate(223.0,867.5) scale(0.95,1)" text-anchor="middle" font-size="12.5">F</text>
<text transform="translate(261.5,867.5) scale(0.95,1)" text-anchor="middle" font-size="12.5">G</text>
<text transform="translate(299.8,866.1) scale(0.95,1)" text-anchor="middle" font-size="12.5">H</text>
<text transform="translate(335.3,866.1) scale(0.95,1)" text-anchor="middle" font-size="12.5">K</text>
<text transform="translate(371.2,866.1) scale(0.95,1)" text-anchor="middle" font-size="12.5">L</text>
<text transform="translate(403.7,863.7) scale(0.95,1)" text-anchor="middle" font-size="12.5">M</text>
<text transform="translate(432.0,863.0) scale(0.95,1)" text-anchor="middle" font-size="12.5">N</text>
<text transform="translate(463.3,861.2) scale(0.95,1)" text-anchor="middle" font-size="12.5">P</text>
<text transform="translate(496.2,860.4) scale(0.95,1)" text-anchor="middle" font-size="12.5">R</text>
<text transform="translate(529.4,859.9) scale(0.95,1)" text-anchor="middle" font-size="12.5">S</text>
<text transform="translate(561.5,858.5) scale(0.95,1)" text-anchor="middle" font-size="12.5">T</text>
<text transform="translate(602.9,857.9) scale(0.95,1)" text-anchor="middle" font-size="12.5">U</text>
<text transform="translate(642.2,856.5) scale(0.95,1)" text-anchor="middle" font-size="12.5">V</text>
<text transform="translate(676.2,856.5) scale(0.95,1)" text-anchor="middle" font-size="12.5">W</text>
<text transform="translate(706.0,856.5) scale(0.95,1)" text-anchor="middle" font-size="12.5">X</text>
<text transform="translate(71.5,896.0) scale(0.66,1)" text-anchor="middle" font-size="12.5">20</text>
<text transform="translate(72.7,923.2) scale(0.66,1)" text-anchor="middle" font-size="12.5">21</text>
<text transform="translate(73.5,940.5) scale(0.66,1)" text-anchor="middle" font-size="12.5">22</text>
<text transform="translate(107.7,892.8) scale(0.66,1)" text-anchor="middle" font-size="12.5">23</text>
<text transform="translate(108.5,908.9) scale(0.66,1)" text-anchor="middle" font-size="12.5">24</text>
<text transform="translate(107.7,924.5) scale(0.66,1)" text-anchor="middle" font-size="12.5">25</text>
<text transform="translate(139.3,890.8) scale(0.66,1)" text-anchor="middle" font-size="12.5">26</text>
<text transform="translate(140.0,908.9) scale(0.66,1)" text-anchor="middle" font-size="12.5">21</text>
<text transform="translate(140.0,923.9) scale(0.66,1)" text-anchor="middle" font-size="12.5">22</text>
<text transform="translate(170.0,875.2) scale(0.66,1)" text-anchor="middle" font-size="12.5">31</text>
<text transform="translate(170.0,886.9) scale(0.66,1)" text-anchor="middle" font-size="12.5">27</text>
<text transform="translate(171.2,899.8) scale(0.66,1)" text-anchor="middle" font-size="12.5">28</text>
<text transform="translate(170.0,914.1) scale(0.66,1)" text-anchor="middle" font-size="12.5">29</text>
<text transform="translate(201.5,889.5) scale(0.66,1)" text-anchor="middle" font-size="12.5">30</text>
<text transform="translate(201.5,901.1) scale(0.66,1)" text-anchor="middle" font-size="12.5">21</text>
<text transform="translate(202.3,916.2) scale(0.66,1)" text-anchor="middle" font-size="12.5">22</text>
<text transform="translate(235.0,885.2) scale(0.66,1)" text-anchor="middle" font-size="12.5">31</text>
<text transform="translate(236.0,900.5) scale(0.66,1)" text-anchor="middle" font-size="12.5">28</text>
<text transform="translate(273.5,888.5) scale(0.66,1)" text-anchor="middle" font-size="12.5">32</text>
<text transform="translate(274.4,902.0) scale(0.66,1)" text-anchor="middle" font-size="12.5">21</text>
<text transform="translate(274.4,915.0) scale(0.66,1)" text-anchor="middle" font-size="12.5">22</text>
<text transform="translate(310.4,886.5) scale(0.66,1)" text-anchor="middle" font-size="12.5">33</text>
<text transform="translate(311.8,902.0) scale(0.66,1)" text-anchor="middle" font-size="12.5">28</text>
<text transform="translate(346.3,886.5) scale(0.66,1)" text-anchor="middle" font-size="12.5">33</text>
<text transform="translate(347.3,903.0) scale(0.66,1)" text-anchor="middle" font-size="12.5">34</text>
<text transform="translate(380.8,883.8) scale(0.66,1)" text-anchor="middle" font-size="12.5">35</text>
<text transform="translate(382.3,893.9) scale(0.66,1)" text-anchor="middle" font-size="12.5">28</text>
<text transform="translate(382.3,907.8) scale(0.66,1)" text-anchor="middle" font-size="12.5">36</text>
<text transform="translate(412.8,884.5) scale(0.66,1)" text-anchor="middle" font-size="12.5">35</text>
<text transform="translate(413.3,898.2) scale(0.66,1)" text-anchor="middle" font-size="12.5">28</text>
<text transform="translate(445.2,875.5) scale(0.66,1)" text-anchor="middle" font-size="12.5">37</text>
<text transform="translate(445.2,888.4) scale(0.66,1)" text-anchor="middle" font-size="12.5">38</text>
<text transform="translate(472.4,883.2) scale(0.66,1)" text-anchor="middle" font-size="12.5">27</text>
<text transform="translate(473.4,899.5) scale(0.66,1)" text-anchor="middle" font-size="12.5">28</text>
<text transform="translate(506.0,877.5) scale(0.66,1)" text-anchor="middle" font-size="12.5">45</text>
<text transform="translate(506.6,889.5) scale(0.66,1)" text-anchor="middle" font-size="12.5">46</text>
<text transform="translate(507.9,903.4) scale(0.66,1)" text-anchor="middle" font-size="12.5">47</text>
<text transform="translate(507.9,917.4) scale(0.66,1)" text-anchor="middle" font-size="12.5">48</text>
<text transform="translate(540.3,873.3) scale(0.66,1)" text-anchor="middle" font-size="12.5">52</text>
<text transform="translate(540.3,886.5) scale(0.66,1)" text-anchor="middle" font-size="12.5">53</text>
<text transform="translate(539.7,898.2) scale(0.66,1)" text-anchor="middle" font-size="12.5">54</text>
<text transform="translate(539.0,911.2) scale(0.66,1)" text-anchor="middle" font-size="12.5">55</text>
<text transform="translate(572.6,877.5) scale(0.66,1)" text-anchor="middle" font-size="12.5">57</text>
<text transform="translate(587.0,903.0) scale(0.66,1)" text-anchor="middle" font-size="12.5">58</text>
<text transform="translate(586.0,917.3) scale(0.66,1)" text-anchor="middle" font-size="12.5">59</text>
<text transform="translate(586.0,932.2) scale(0.66,1)" text-anchor="middle" font-size="12.5">58</text>
<text transform="translate(587.0,946.1) scale(0.66,1)" text-anchor="middle" font-size="12.5">60</text>
<text transform="translate(586.0,959.5) scale(0.66,1)" text-anchor="middle" font-size="12.5">61</text>
<text transform="translate(614.8,877.1) scale(0.66,1)" text-anchor="middle" font-size="12.5">65</text>
<text transform="translate(615.8,891.0) scale(0.66,1)" text-anchor="middle" font-size="12.5">66</text>
<text transform="translate(616.3,905.4) scale(0.66,1)" text-anchor="middle" font-size="12.5">67</text>
<text transform="translate(616.3,920.2) scale(0.66,1)" text-anchor="middle" font-size="12.5">68</text>
<text transform="translate(653.2,881.5) scale(0.66,1)" text-anchor="middle" font-size="12.5">70</text>
<text transform="translate(653.2,895.8) scale(0.66,1)" text-anchor="middle" font-size="12.5">71</text>
<text transform="translate(653.2,913.0) scale(0.66,1)" text-anchor="middle" font-size="12.5">72</text>
<text transform="translate(686.7,883.8) scale(0.66,1)" text-anchor="middle" font-size="12.5">74</text>
<text transform="translate(686.7,901.1) scale(0.66,1)" text-anchor="middle" font-size="12.5">75</text>
<text transform="translate(716.4,883.8) scale(0.66,1)" text-anchor="middle" font-size="12.5">27</text>
<text transform="translate(717.9,907.8) scale(0.66,1)" text-anchor="middle" font-size="12.5">76</text>
</g>
</svg>
</body></html>
